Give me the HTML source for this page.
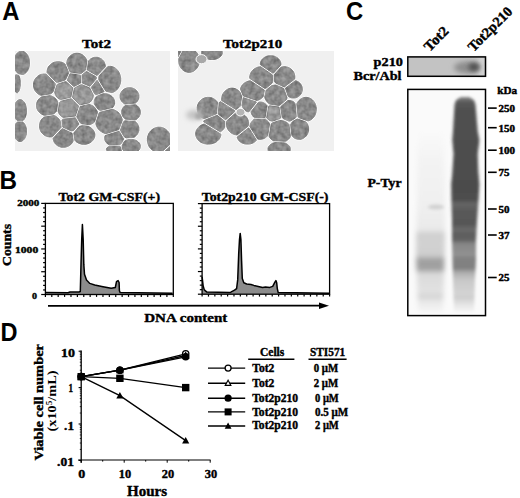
<!DOCTYPE html>
<html><head><meta charset="utf-8"><style>
html,body{margin:0;padding:0;background:#fff;width:520px;height:498px;overflow:hidden}
svg{display:block}
</style></head><body>
<svg width="520" height="498" viewBox="0 0 520 498">
<defs>
<filter id="blur1" x="-50%" y="-50%" width="200%" height="200%"><feGaussianBlur stdDeviation="1.5"/></filter>
<filter id="blur3" x="-50%" y="-50%" width="200%" height="200%"><feGaussianBlur stdDeviation="1.8"/></filter>
<filter id="tex" x="0" y="0" width="100%" height="100%"><feTurbulence type="fractalNoise" baseFrequency="0.22" numOctaves="2" seed="3" result="n"/><feColorMatrix in="n" type="matrix" values="1.3 0 0 0 -0.2  1.3 0 0 0 -0.2  1.3 0 0 0 -0.2  0 0 0 0 0.22" result="na"/><feComposite in="na" in2="SourceAlpha" operator="in" result="nm"/><feMerge><feMergeNode in="SourceGraphic"/><feMergeNode in="nm"/></feMerge></filter>
<filter id="blur2" x="-50%" y="-50%" width="200%" height="200%"><feGaussianBlur stdDeviation="2.5"/></filter>
</defs>
<rect width="520" height="498" fill="#fff"/>
<text x="2.2" y="19.9" font-size="25" font-family='"Liberation Sans", sans-serif' font-weight="bold" text-anchor="start" textLength="17.2" lengthAdjust="spacingAndGlyphs">A</text>
<text x="-0.6" y="188.6" font-size="25" font-family='"Liberation Sans", sans-serif' font-weight="bold" text-anchor="start" textLength="17.5" lengthAdjust="spacingAndGlyphs">B</text>
<text x="346.0" y="20.4" font-size="25.8" font-family='"Liberation Sans", sans-serif' font-weight="bold" text-anchor="start" textLength="17.2" lengthAdjust="spacingAndGlyphs">C</text>
<text x="0.4" y="340.6" font-size="25" font-family='"Liberation Sans", sans-serif' font-weight="bold" text-anchor="start" textLength="17" lengthAdjust="spacingAndGlyphs">D</text>
<text x="82.1" y="47.9" font-size="12.9" font-family='"Liberation Serif", serif' font-weight="bold" text-anchor="start" textLength="28.9" lengthAdjust="spacingAndGlyphs" stroke="#000" stroke-width="0.4">Tot2</text>
<text x="223" y="47.8" font-size="12.9" font-family='"Liberation Serif", serif' font-weight="bold" text-anchor="start" textLength="59.3" lengthAdjust="spacingAndGlyphs" stroke="#000" stroke-width="0.4">Tot2p210</text>
<clipPath id="c1"><rect x="15" y="51" width="155" height="100"/></clipPath>
<rect x="15" y="51" width="155" height="100" fill="#f0f0f0"/>
<g clip-path="url(#c1)">
<ellipse cx="170.0" cy="151.5" rx="7.5" ry="8.0" fill="#fdfdfd"/>
<ellipse cx="159.1" cy="139.8" rx="12.9" ry="13.8" fill="#fdfdfd"/>
<ellipse cx="114.3" cy="149.3" rx="9.1" ry="5.2" fill="#fdfdfd"/>
<ellipse cx="131.0" cy="146.3" rx="10.5" ry="8.2" fill="#fdfdfd"/>
<ellipse cx="114.2" cy="138.1" rx="10.7" ry="9.1" fill="#fdfdfd"/>
<ellipse cx="129.5" cy="129.0" rx="10.6" ry="10.5" fill="#fdfdfd"/>
<ellipse cx="131.0" cy="112.2" rx="10.5" ry="9.8" fill="#fdfdfd"/>
<ellipse cx="129.5" cy="96.3" rx="10.6" ry="9.9" fill="#fdfdfd"/>
<ellipse cx="83.9" cy="135.0" rx="12.1" ry="10.5" fill="#fdfdfd"/>
<ellipse cx="63.4" cy="138.0" rx="11.4" ry="10.5" fill="#fdfdfd"/>
<ellipse cx="109.0" cy="121.4" rx="14.5" ry="13.6" fill="#fdfdfd"/>
<ellipse cx="70.2" cy="123.8" rx="10.6" ry="8.2" fill="#fdfdfd"/>
<ellipse cx="86.9" cy="114.6" rx="12.1" ry="11.4" fill="#fdfdfd"/>
<ellipse cx="104.4" cy="102.4" rx="11.4" ry="9.9" fill="#fdfdfd"/>
<ellipse cx="68.5" cy="108.5" rx="12.0" ry="11.4" fill="#fdfdfd"/>
<ellipse cx="82.4" cy="94.8" rx="12.1" ry="11.4" fill="#fdfdfd"/>
<ellipse cx="64.2" cy="91.0" rx="10.6" ry="10.5" fill="#fdfdfd"/>
<ellipse cx="50.4" cy="125.9" rx="12.1" ry="12.1" fill="#fdfdfd"/>
<ellipse cx="47.4" cy="105.4" rx="12.1" ry="11.4" fill="#fdfdfd"/>
<ellipse cx="44.4" cy="84.9" rx="12.1" ry="12.1" fill="#fdfdfd"/>
<ellipse cx="98.2" cy="86.8" rx="8.8" ry="9.2" fill="#fdfdfd"/>
<ellipse cx="89.0" cy="79.0" rx="9.5" ry="9.0" fill="#fdfdfd"/>
<ellipse cx="74.7" cy="79.4" rx="8.4" ry="8.7" fill="#fdfdfd"/>
<ellipse cx="109.7" cy="79.6" rx="12.2" ry="14.4" fill="#fdfdfd"/>
<ellipse cx="96.0" cy="66.7" rx="10.5" ry="10.6" fill="#fdfdfd"/>
<ellipse cx="77.0" cy="64.0" rx="11.5" ry="11.8" fill="#fdfdfd"/>
<ellipse cx="58.0" cy="72.0" rx="12.2" ry="11.5" fill="#fdfdfd"/>
<ellipse cx="20.1" cy="131.3" rx="7.6" ry="11.4" fill="#fdfdfd"/>
<ellipse cx="20.1" cy="110.7" rx="7.6" ry="12.2" fill="#fdfdfd"/>
<ellipse cx="17.0" cy="83.4" rx="4.5" ry="10.6" fill="#fdfdfd"/>
<ellipse cx="21.6" cy="62.9" rx="9.1" ry="12.9" fill="#fdfdfd"/>
<g filter="url(#tex)">
<path d="M13.8,60.6 L13.7,61.7 L13.7,62.9 L13.7,64.1 L13.8,65.2 L14.0,66.4 L14.3,67.5 L14.6,68.5 L15.1,69.5 L15.5,70.5 L16.1,71.3 L16.7,72.1 L17.3,72.8 L18.0,73.3 L18.3,73.6 L22.6,74.5 L23.1,74.4 L23.8,74.2 L24.5,73.8 L25.2,73.3 L25.9,72.8 L26.5,72.1 L27.1,71.3 L27.7,70.5 L28.1,69.5 L28.6,68.5 L28.9,67.5 L29.2,66.4 L29.4,65.2 L29.5,64.1 L29.5,62.9 L29.5,61.7 L29.4,60.6 L29.2,59.4 L28.9,58.3 L28.6,57.3 L28.1,56.3 L27.7,55.3 L27.1,54.5 L26.5,53.7 L25.9,53.0 L25.2,52.5 L24.5,52.0 L23.8,51.6 L23.1,51.4 L22.3,51.2 L21.6,51.2 L20.9,51.2 L20.1,51.4 L19.4,51.6 L18.7,52.0 L18.0,52.5 L17.3,53.0 L16.7,53.7 L16.1,54.5 L15.5,55.3 L15.1,56.3 L14.6,57.3 L14.3,58.3 L14.0,59.4Z" fill="#7c7c7c" stroke="#6c6c6c" stroke-width="0.9"/>
<path d="M14.1,88.1 L14.3,88.9 L14.6,89.7 L14.8,90.4 L15.1,91.0 L15.4,91.5 L15.7,92.0 L16.0,92.3 L16.3,92.6 L16.6,92.7 L16.8,92.8 L17.0,92.8 L17.2,92.8 L17.4,92.7 L17.7,92.6 L18.0,92.3 L18.3,92.0 L18.6,91.5 L18.9,91.0 L19.2,90.4 L19.4,89.7 L19.7,88.9 L19.9,88.1 L20.0,87.2 L20.2,86.3 L20.3,85.3 L20.3,84.4 L20.3,83.4 L20.3,82.4 L20.3,81.5 L20.2,80.5 L20.0,79.6 L19.9,78.7 L19.7,77.9 L19.4,77.1 L19.2,76.4 L18.9,75.8 L18.7,75.4 L15.8,74.7 L15.7,74.8 L15.4,75.3 L15.1,75.8 L14.8,76.4 L14.6,77.1 L14.3,77.9 L14.1,78.7 L14.0,79.6 L13.8,80.5 L13.7,81.5 L13.7,82.4 L13.7,83.4 L13.7,84.4 L13.7,85.3 L13.8,86.3 L14.0,87.2Z" fill="#7c7c7c" stroke="#6c6c6c" stroke-width="0.9"/>
<path d="M13.8,108.5 L13.7,109.6 L13.7,110.7 L13.7,111.8 L13.8,112.9 L14.0,114.0 L14.2,115.0 L14.5,116.0 L14.8,117.0 L15.2,117.9 L15.7,118.7 L16.1,119.4 L16.7,120.0 L17.0,120.3 L23.2,120.3 L23.5,120.0 L24.1,119.4 L24.5,118.7 L25.0,117.9 L25.4,117.0 L25.7,116.0 L26.0,115.0 L26.2,114.0 L26.4,112.9 L26.5,111.8 L26.5,110.7 L26.5,109.6 L26.4,108.5 L26.2,107.4 L26.0,106.4 L25.7,105.4 L25.4,104.4 L25.0,103.5 L24.5,102.7 L24.1,102.0 L23.5,101.4 L23.0,100.8 L22.4,100.4 L21.8,100.1 L21.3,99.8 L20.7,99.7 L20.1,99.7 L19.5,99.7 L18.9,99.8 L18.4,100.1 L17.8,100.4 L17.2,100.8 L16.7,101.4 L16.1,102.0 L15.7,102.7 L15.2,103.5 L14.8,104.4 L14.5,105.4 L14.2,106.4 L14.0,107.4Z" fill="#7c7c7c" stroke="#6c6c6c" stroke-width="0.9"/>
<path d="M14.5,136.3 L14.8,137.1 L15.2,137.9 L15.6,138.7 L16.1,139.3 L16.7,139.9 L17.2,140.4 L17.8,140.8 L18.3,141.1 L18.9,141.4 L19.5,141.5 L20.1,141.5 L20.7,141.5 L21.3,141.4 L21.9,141.1 L22.4,140.8 L23.0,140.4 L23.5,139.9 L24.1,139.3 L24.6,138.7 L25.0,137.9 L25.4,137.1 L25.7,136.3 L26.0,135.3 L26.3,134.4 L26.4,133.4 L26.5,132.3 L26.5,131.3 L26.5,130.3 L26.4,129.2 L26.3,128.2 L26.0,127.3 L25.7,126.3 L25.4,125.5 L25.0,124.7 L24.6,123.9 L24.1,123.3 L23.5,122.7 L23.0,122.2 L22.8,122.0 L17.4,122.0 L17.2,122.2 L16.7,122.7 L16.1,123.3 L15.6,123.9 L15.2,124.7 L14.8,125.5 L14.5,126.3 L14.2,127.3 L13.9,128.2 L13.8,129.2 L13.7,130.3 L13.7,131.3 L13.7,132.3 L13.8,133.4 L13.9,134.4 L14.2,135.3Z" fill="#7c7c7c" stroke="#6c6c6c" stroke-width="0.9"/>
<path d="M56.2,82.2 L57.0,82.3 L57.9,82.3 L64.9,80.1 L65.0,80.0 L65.7,79.4 L68.7,72.7 L65.0,64.0 L64.2,63.4 L63.3,62.9 L62.3,62.4 L61.3,62.1 L60.2,61.9 L59.1,61.7 L58.0,61.7 L57.0,61.7 L55.9,61.9 L54.8,62.1 L53.8,62.4 L52.8,62.9 L51.9,63.4 L51.1,64.0 L50.3,64.7 L49.5,65.5 L48.9,66.3 L48.3,67.1 L47.9,68.1 L47.5,69.0 L47.3,70.0 L47.1,71.0 L47.1,72.0 L47.1,72.6Z" fill="#7c7c7c" stroke="#6c6c6c" stroke-width="0.9"/>
<path d="M66.9,61.9 L66.7,62.9 L66.7,63.6 L70.2,72.0 L81.0,73.6 L85.5,70.1 L85.6,69.9 L85.6,69.9 L86.9,60.9 L86.9,60.8 L86.6,59.8 L86.1,58.9 L85.6,58.0 L85.0,57.2 L84.3,56.4 L83.6,55.7 L82.7,55.0 L81.9,54.5 L81.0,54.1 L80.0,53.7 L79.0,53.5 L78.0,53.3 L77.0,53.3 L76.0,53.3 L75.0,53.5 L74.0,53.7 L73.0,54.1 L72.1,54.5 L71.3,55.0 L70.4,55.7 L69.7,56.4 L69.0,57.2 L68.4,58.0 L67.9,58.9 L67.4,59.8 L67.1,60.8Z" fill="#7c7c7c" stroke="#6c6c6c" stroke-width="0.9"/>
<path d="M87.3,70.0 L97.1,75.5 L105.3,66.8 L105.3,66.7 L105.3,65.8 L105.2,64.9 L104.9,64.0 L104.6,63.1 L104.2,62.2 L103.8,61.4 L103.2,60.7 L102.6,60.0 L101.9,59.4 L101.2,58.8 L100.4,58.4 L99.6,58.0 L98.7,57.7 L97.8,57.4 L96.9,57.3 L96.0,57.3 L95.1,57.3 L94.2,57.4 L93.3,57.7 L92.4,58.0 L91.6,58.4 L90.8,58.8 L90.1,59.4 L89.4,60.0 L88.8,60.7 L88.6,60.9Z" fill="#7c7c7c" stroke="#6c6c6c" stroke-width="0.9"/>
<path d="M98.7,79.6 L105.9,91.2 L111.8,92.6 L112.9,92.3 L113.9,91.9 L114.9,91.3 L115.8,90.7 L116.7,89.9 L117.5,89.0 L118.2,88.1 L118.9,87.0 L119.4,85.9 L119.9,84.7 L120.3,83.5 L120.5,82.2 L120.7,80.9 L120.7,79.6 L120.7,78.3 L120.5,77.0 L120.3,75.7 L119.9,74.5 L119.4,73.3 L118.9,72.2 L118.2,71.1 L117.5,70.2 L116.7,69.3 L115.8,68.5 L114.9,67.9 L113.9,67.3 L112.9,66.9 L111.8,66.6 L110.8,66.4 L109.7,66.4 L108.6,66.4 L107.9,66.5 L99.1,75.9 L98.9,77.0 L98.7,78.3Z" fill="#7c7c7c" stroke="#6c6c6c" stroke-width="0.9"/>
<path d="M67.5,80.1 L67.6,80.8 L73.9,86.5 L80.6,83.1 L80.4,75.2 L70.1,73.7 L67.5,79.7Z" fill="#7c7c7c" stroke="#6c6c6c" stroke-width="0.9"/>
<path d="M90.0,86.2 L96.4,78.6 L96.4,77.1 L86.6,71.5 L86.6,71.5 L86.3,71.6 L82.1,74.9 L82.3,83.0Z" fill="#7c7c7c" stroke="#6c6c6c" stroke-width="0.9"/>
<path d="M97.1,80.3 L91.3,87.4 L94.6,93.8 L94.7,93.9 L95.4,94.2 L96.1,94.5 L96.4,94.6 L104.1,91.6Z" fill="#7c7c7c" stroke="#6c6c6c" stroke-width="0.9"/>
<path d="M36.7,92.7 L37.5,93.5 L38.3,94.1 L39.2,94.7 L40.2,95.1 L40.8,95.3 L50.8,93.8 L51.3,93.5 L52.1,92.7 L52.9,91.9 L53.2,91.5 L55.3,84.5 L55.3,83.9 L55.3,83.7 L46.2,74.1 L45.5,74.0 L44.4,74.0 L43.3,74.0 L42.3,74.2 L41.2,74.4 L40.2,74.8 L39.2,75.2 L38.3,75.8 L37.5,76.4 L36.7,77.2 L35.9,78.0 L35.3,78.8 L34.7,79.8 L34.3,80.7 L33.9,81.8 L33.7,82.8 L33.5,83.9 L33.5,84.9 L33.5,86.0 L33.7,87.1 L33.9,88.1 L34.3,89.2 L34.7,90.1 L35.3,91.1 L35.9,91.9Z" fill="#7c7c7c" stroke="#6c6c6c" stroke-width="0.9"/>
<path d="M37.3,109.3 L37.7,110.2 L38.3,111.1 L38.9,111.9 L39.6,112.6 L40.4,113.3 L41.3,113.9 L42.2,114.4 L43.2,114.9 L44.2,115.2 L44.5,115.3 L53.4,113.9 L53.5,113.9 L54.4,113.3 L55.2,112.6 L55.9,111.9 L56.5,111.1 L57.8,102.3 L57.5,101.6 L57.1,100.7 L56.5,99.8 L55.9,99.0 L55.2,98.3 L54.4,97.6 L53.5,97.0 L52.6,96.5 L51.6,96.0 L50.6,95.7 L50.3,95.6 L41.4,97.0 L41.3,97.0 L40.4,97.6 L39.6,98.3 L38.9,99.0 L38.3,99.8 L37.7,100.7 L37.3,101.6 L36.9,102.5 L36.7,103.5 L36.5,104.5 L36.5,105.5 L36.5,106.4 L36.7,107.4 L36.9,108.4Z" fill="#7c7c7c" stroke="#6c6c6c" stroke-width="0.9"/>
<path d="M41.3,132.1 L41.9,132.9 L42.7,133.7 L43.5,134.5 L44.3,135.1 L45.2,135.7 L46.2,136.1 L47.2,136.5 L48.3,136.7 L49.3,136.9 L50.4,136.9 L51.5,136.9 L52.3,136.8 L61.1,127.3 L60.5,121.7 L60.1,120.8 L59.5,119.8 L58.9,119.0 L58.1,118.2 L57.3,117.4 L56.5,116.8 L55.6,116.2 L54.6,115.8 L54.0,115.6 L44.0,117.1 L43.5,117.4 L42.7,118.2 L41.9,119.0 L41.3,119.8 L40.7,120.8 L40.3,121.7 L39.9,122.8 L39.7,123.8 L39.5,124.9 L39.5,126.0 L39.5,127.0 L39.7,128.1 L39.9,129.1 L40.3,130.2 L40.7,131.1Z" fill="#7c7c7c" stroke="#6c6c6c" stroke-width="0.9"/>
<path d="M60.5,99.6 L70.9,97.1 L72.8,87.8 L66.3,81.9 L66.0,81.8 L65.4,81.7 L57.6,84.2 L57.4,84.4 L57.0,84.9 L54.7,92.2 L54.8,92.8 L55.1,93.7 L55.4,94.6 L55.8,95.4 L56.2,96.2 L56.8,96.9 L57.4,97.6 L58.1,98.2 L58.9,98.8 L59.7,99.2Z" fill="#929292" stroke="#6c6c6c" stroke-width="0.9"/>
<path d="M80.2,104.8 L89.3,102.8 L89.4,102.7 L90.2,102.0 L90.9,101.3 L91.5,100.5 L92.1,99.6 L92.5,98.7 L92.9,97.8 L93.1,96.8 L93.3,95.8 L93.3,95.2 L89.6,87.9 L81.8,84.7 L81.3,84.7 L81.1,84.7 L74.5,88.1 L72.5,97.5 L79.6,104.7Z" fill="#929292" stroke="#6c6c6c" stroke-width="0.9"/>
<path d="M58.2,111.6 L58.5,112.4 L58.9,113.3 L59.5,114.2 L60.1,115.0 L60.8,115.7 L61.6,116.4 L62.5,117.0 L63.2,117.4 L75.3,116.1 L78.6,106.1 L71.3,98.7 L60.8,101.3 L60.1,102.0 L59.5,102.8 L59.4,102.9Z" fill="#939393" stroke="#6c6c6c" stroke-width="0.9"/>
<path d="M94.3,104.1 L94.4,104.1 L97.9,109.1 L98.7,109.6 L99.5,110.1 L100.3,110.4 L112.8,107.4 L113.0,107.2 L113.5,106.5 L113.9,105.7 L114.2,104.9 L114.5,104.1 L114.6,103.2 L114.6,102.4 L114.6,101.6 L114.5,100.7 L114.2,99.9 L113.9,99.1 L113.5,98.3 L113.0,97.6 L112.4,96.9 L111.7,96.3 L110.9,95.7 L110.1,95.2 L109.3,94.7 L108.4,94.3 L107.4,94.0 L106.4,93.8 L105.4,93.7 L104.4,93.7 L103.4,93.7 L103.3,93.7 L97.4,96.0 L97.1,96.3 L96.4,96.9 L95.8,97.6 L95.3,98.3 L94.9,99.1 L94.6,99.9 L94.3,100.7 L94.2,101.6 L94.2,102.4 L94.2,103.2Z" fill="#7c7c7c" stroke="#6c6c6c" stroke-width="0.9"/>
<path d="M80.2,106.6 L76.8,116.8 L79.9,122.4 L80.0,122.5 L80.8,123.1 L81.7,123.6 L81.8,123.7 L88.8,124.7 L89.1,124.7 L90.2,124.4 L91.2,124.1 L92.2,123.6 L93.1,123.1 L93.9,122.5 L94.5,122.0 L97.6,112.1 L97.5,111.6 L97.4,111.5 L94.3,107.0 L93.9,106.7 L93.1,106.1 L92.2,105.6 L91.2,105.1 L90.2,104.8 L89.1,104.5 L89.1,104.5Z" fill="#7c7c7c" stroke="#6c6c6c" stroke-width="0.9"/>
<path d="M62.9,119.2 L62.7,119.3 L62.2,119.9 L62.0,120.1 L62.8,127.0 L70.9,130.8 L71.1,130.8 L72.0,130.7 L73.0,130.5 L73.8,130.3 L78.9,124.1 L75.4,117.9 L75.4,117.8Z" fill="#7c7c7c" stroke="#6c6c6c" stroke-width="0.9"/>
<path d="M102.7,132.5 L103.9,133.0 L105.1,133.4 L105.9,133.6 L118.8,129.6 L122.3,120.2 L122.1,119.0 L122.1,118.9 L120.4,115.0 L120.1,114.5 L119.3,113.5 L118.5,112.6 L117.5,111.8 L116.4,111.1 L115.3,110.4 L114.1,109.9 L112.9,109.5 L112.1,109.3 L100.0,112.3 L99.5,112.6 L99.1,113.1 L95.8,123.5 L95.9,123.9 L96.2,125.1 L96.7,126.2 L97.2,127.3 L97.9,128.4 L98.7,129.4 L99.5,130.3 L100.5,131.1 L101.6,131.8Z" fill="#7c7c7c" stroke="#6c6c6c" stroke-width="0.9"/>
<path d="M58.5,146.2 L59.5,146.6 L60.4,146.9 L61.4,147.2 L62.4,147.3 L63.4,147.3 L64.4,147.3 L65.4,147.2 L66.4,146.9 L67.3,146.6 L68.3,146.2 L69.1,145.8 L69.9,145.2 L70.7,144.6 L71.3,143.9 L71.9,143.2 L72.5,142.4 L72.9,141.6 L73.2,140.7 L73.2,140.7 L72.1,133.3 L62.4,128.7 L62.4,128.7 L62.1,128.7 L53.2,138.3 L53.2,138.9 L53.3,139.8 L53.6,140.7 L53.9,141.6 L54.3,142.4 L54.9,143.2 L55.5,143.9 L56.1,144.6 L56.9,145.2 L57.7,145.8Z" fill="#7c7c7c" stroke="#6c6c6c" stroke-width="0.9"/>
<path d="M74.9,140.3 L75.4,140.9 L76.1,141.6 L76.9,142.2 L77.8,142.7 L78.7,143.2 L79.7,143.6 L80.7,143.9 L81.7,144.2 L82.8,144.3 L83.9,144.3 L85.0,144.3 L86.1,144.2 L87.1,143.9 L88.1,143.6 L89.1,143.2 L90.0,142.7 L90.9,142.2 L91.7,141.6 L92.4,140.9 L93.0,140.1 L93.6,139.4 L94.0,138.5 L94.4,137.7 L94.6,136.8 L94.8,135.9 L94.8,135.0 L94.8,134.1 L94.6,133.2 L94.4,132.3 L94.0,131.5 L93.6,130.6 L93.0,129.9 L92.4,129.1 L91.7,128.4 L90.9,127.8 L90.0,127.3 L89.1,126.8 L88.1,126.4 L87.8,126.3 L83.7,125.7 L82.8,125.7 L81.7,125.8 L80.7,126.1 L79.7,126.4 L79.0,126.7 L73.8,133.0Z" fill="#7c7c7c" stroke="#6c6c6c" stroke-width="0.9"/>
<path d="M120.2,94.7 L120.1,95.5 L120.1,96.4 L120.1,97.2 L120.2,98.0 L120.5,98.9 L120.8,99.7 L121.2,100.4 L121.6,101.2 L122.2,101.8 L122.8,102.5 L123.5,103.1 L124.2,103.6 L125.0,104.0 L135.6,103.0 L136.2,102.5 L136.8,101.8 L137.4,101.2 L137.8,100.4 L138.2,99.7 L138.5,98.9 L138.8,98.0 L138.9,97.2 L138.9,96.4 L138.9,95.5 L138.8,94.7 L138.5,93.8 L138.2,93.0 L137.8,92.3 L137.4,91.5 L136.8,90.9 L136.2,90.2 L135.5,89.6 L134.8,89.1 L134.0,88.7 L133.1,88.3 L132.3,88.0 L131.4,87.8 L130.4,87.7 L129.5,87.7 L128.6,87.7 L127.6,87.8 L126.7,88.0 L125.9,88.3 L125.0,88.7 L124.2,89.1 L123.5,89.6 L122.8,90.2 L122.2,90.9 L121.6,91.5 L121.2,92.3 L120.8,93.0 L120.5,93.8Z" fill="#7c7c7c" stroke="#6c6c6c" stroke-width="0.9"/>
<path d="M121.8,110.6 L121.7,111.4 L121.7,112.2 L121.7,113.1 L121.8,113.9 L121.9,114.0 L122.9,116.5 L123.2,117.0 L123.8,117.7 L124.4,118.3 L125.0,118.9 L125.3,119.1 L135.1,120.0 L135.4,119.8 L136.2,119.4 L137.0,118.9 L137.6,118.3 L138.2,117.7 L138.8,117.0 L139.3,116.3 L139.6,115.5 L140.0,114.7 L140.2,113.9 L140.3,113.1 L140.3,112.2 L140.3,111.4 L140.2,110.6 L140.0,109.8 L139.6,109.0 L139.3,108.2 L138.8,107.5 L138.2,106.8 L137.6,106.2 L137.0,105.6 L136.2,105.1 L135.5,104.7 L124.9,105.7 L124.4,106.2 L123.8,106.8 L123.2,107.5 L122.7,108.2 L122.4,109.0 L122.0,109.8Z" fill="#7c7c7c" stroke="#6c6c6c" stroke-width="0.9"/>
<path d="M124.4,136.9 L125.0,137.2 L125.9,137.6 L126.4,137.8 L134.1,137.2 L134.8,136.8 L135.5,136.2 L136.2,135.6 L136.8,134.9 L137.4,134.2 L137.8,133.4 L138.2,132.6 L138.5,131.7 L138.8,130.8 L138.9,129.9 L138.9,129.0 L138.9,128.1 L138.8,127.2 L138.5,126.3 L138.2,125.4 L137.8,124.6 L137.4,123.8 L136.8,123.1 L136.2,122.4 L135.5,121.8 L135.4,121.7 L125.0,120.8 L124.2,121.2 L123.5,121.8 L123.5,121.8 L120.4,130.2Z" fill="#7c7c7c" stroke="#6c6c6c" stroke-width="0.9"/>
<path d="M106.2,142.5 L106.8,143.1 L107.4,143.7 L108.1,144.2 L108.8,144.7 L109.4,145.0 L119.3,144.8 L119.6,144.7 L120.3,144.2 L121.0,143.7 L121.5,143.2 L123.6,138.9 L119.1,131.3 L119.1,131.3 L105.1,135.6 L105.0,135.8 L104.8,136.6 L104.7,137.3 L104.7,138.1 L104.7,138.9 L104.8,139.6 L105.0,140.4 L105.4,141.1 L105.7,141.8Z" fill="#7c7c7c" stroke="#6c6c6c" stroke-width="0.9"/>
<path d="M124.3,151.2 L125.0,151.7 L125.7,152.1 L126.5,152.5 L127.4,152.8 L128.2,153.0 L129.1,153.2 L130.1,153.3 L131.0,153.3 L131.9,153.3 L132.9,153.2 L133.8,153.0 L134.6,152.8 L135.5,152.5 L136.3,152.1 L137.0,151.7 L137.7,151.2 L138.3,150.7 L138.8,150.2 L139.3,149.6 L139.7,149.0 L140.0,148.3 L140.2,147.7 L140.3,147.0 L140.3,146.4 L140.3,145.7 L140.2,145.0 L140.0,144.4 L139.7,143.7 L139.3,143.1 L138.8,142.5 L138.3,142.0 L137.7,141.5 L137.0,141.0 L136.3,140.6 L135.5,140.2 L134.6,139.9 L133.8,139.7 L132.9,139.5 L131.9,139.4 L131.0,139.4 L130.1,139.4 L129.1,139.5 L128.2,139.7 L127.4,139.9 L126.5,140.2 L125.7,140.6 L125.0,141.0 L124.3,141.5 L124.2,141.6 L122.1,145.8 L122.8,149.7 L123.2,150.2 L123.7,150.7Z" fill="#7c7c7c" stroke="#6c6c6c" stroke-width="0.9"/>
<path d="M106.5,148.7 L106.4,149.0 L106.4,149.3 L106.4,149.7 L106.5,150.0 L106.6,150.3 L106.9,150.7 L107.2,151.0 L107.5,151.4 L108.0,151.7 L108.5,152.0 L109.1,152.3 L109.7,152.6 L110.4,152.8 L111.2,153.0 L111.9,153.2 L112.7,153.3 L113.5,153.3 L114.4,153.3 L115.2,153.3 L116.0,153.3 L116.8,153.2 L117.5,153.0 L118.3,152.8 L119.0,152.6 L119.6,152.3 L120.2,152.0 L120.7,151.7 L121.2,151.4 L121.4,151.2 L120.6,146.9 L120.2,146.7 L119.9,146.5 L108.5,146.7 L108.5,146.7 L108.0,147.0 L107.5,147.3 L107.2,147.7 L106.9,148.0 L106.6,148.4Z" fill="#7c7c7c" stroke="#6c6c6c" stroke-width="0.9"/>
<path d="M147.6,137.3 L147.4,138.5 L147.4,139.8 L147.4,141.0 L147.6,142.2 L147.9,143.4 L148.3,144.6 L148.7,145.7 L149.3,146.8 L150.0,147.8 L150.8,148.7 L151.7,149.5 L152.6,150.2 L153.6,150.9 L154.6,151.4 L155.7,151.8 L156.8,152.1 L158.0,152.3 L159.1,152.3 L160.2,152.3 L161.4,152.1 L161.6,152.0 L170.1,144.2 L170.3,143.4 L170.6,142.2 L170.8,141.0 L170.8,139.8 L170.8,138.5 L170.6,137.3 L170.3,136.1 L169.9,134.9 L169.5,133.8 L168.9,132.7 L168.2,131.7 L167.4,130.8 L166.5,130.0 L165.6,129.3 L164.6,128.6 L163.6,128.1 L162.5,127.7 L161.4,127.4 L160.2,127.2 L159.1,127.2 L158.0,127.2 L156.8,127.4 L155.7,127.7 L154.6,128.1 L153.6,128.6 L152.6,129.3 L151.7,130.0 L150.8,130.8 L150.0,131.7 L149.3,132.7 L148.7,133.8 L148.3,134.9 L147.9,136.1Z" fill="#7c7c7c" stroke="#6c6c6c" stroke-width="0.9"/>
<path d="M163.7,152.4 L163.8,152.8 L163.9,153.5 L164.1,154.1 L164.4,154.7 L164.7,155.3 L165.1,155.9 L165.5,156.4 L166.0,156.8 L166.5,157.2 L167.0,157.6 L167.6,157.8 L168.2,158.1 L168.8,158.2 L169.4,158.3 L170.0,158.3 L170.6,158.3 L171.2,158.2 L171.8,158.1 L172.4,157.8 L173.0,157.6 L173.5,157.2 L174.0,156.8 L174.5,156.4 L174.9,155.9 L175.3,155.3 L175.6,154.7 L175.9,154.1 L176.1,153.5 L176.2,152.8 L176.3,152.2 L176.3,151.5 L176.3,150.8 L176.2,150.2 L176.1,149.5 L175.9,148.9 L175.6,148.3 L175.3,147.7 L174.9,147.1 L174.5,146.6 L174.0,146.2 L173.5,145.8 L173.0,145.4 L172.4,145.2 L171.8,144.9 L171.8,144.9Z" fill="#7c7c7c" stroke="#6c6c6c" stroke-width="0.9"/>
</g>
</g>
<clipPath id="c2"><rect x="178" y="51" width="156" height="100"/></clipPath>
<rect x="178" y="51" width="156" height="100" fill="#f0f0f0"/>
<g clip-path="url(#c2)">
<ellipse cx="279.1" cy="149.2" rx="12.3" ry="8.3" fill="#fdfdfd"/>
<ellipse cx="247.5" cy="136.2" rx="11.5" ry="9.2" fill="#fdfdfd"/>
<ellipse cx="208.3" cy="133.8" rx="13.8" ry="11.5" fill="#fdfdfd"/>
<ellipse cx="299.1" cy="129.1" rx="10.7" ry="11.4" fill="#fdfdfd"/>
<ellipse cx="279.9" cy="131.6" rx="13.0" ry="12.3" fill="#fdfdfd"/>
<ellipse cx="260.0" cy="128.3" rx="11.5" ry="12.1" fill="#fdfdfd"/>
<ellipse cx="237.6" cy="123.8" rx="12.2" ry="12.3" fill="#fdfdfd"/>
<ellipse cx="214.3" cy="123.8" rx="12.2" ry="10.7" fill="#fdfdfd"/>
<ellipse cx="306.0" cy="109.2" rx="11.5" ry="13.0" fill="#fdfdfd"/>
<ellipse cx="289.1" cy="110.8" rx="9.9" ry="11.5" fill="#fdfdfd"/>
<ellipse cx="273.5" cy="113.1" rx="10.0" ry="9.2" fill="#fdfdfd"/>
<ellipse cx="259.9" cy="110.8" rx="10.0" ry="10.0" fill="#fdfdfd"/>
<ellipse cx="225.2" cy="110.0" rx="10.8" ry="10.7" fill="#fdfdfd"/>
<ellipse cx="208.2" cy="108.5" rx="12.2" ry="12.2" fill="#fdfdfd"/>
<ellipse cx="249.0" cy="102.2" rx="8.5" ry="10.8" fill="#fdfdfd"/>
<ellipse cx="232.0" cy="99.2" rx="11.5" ry="12.2" fill="#fdfdfd"/>
<ellipse cx="293.5" cy="89.2" rx="10.0" ry="10.0" fill="#fdfdfd"/>
<ellipse cx="276.0" cy="95.4" rx="12.5" ry="11.5" fill="#fdfdfd"/>
<ellipse cx="252.8" cy="90.8" rx="13.7" ry="11.5" fill="#fdfdfd"/>
<ellipse cx="284.2" cy="77.0" rx="11.8" ry="11.5" fill="#fdfdfd"/>
<ellipse cx="261.5" cy="77.8" rx="13.0" ry="12.2" fill="#fdfdfd"/>
<ellipse cx="270.6" cy="64.5" rx="11.5" ry="10.0" fill="#fdfdfd"/>
<ellipse cx="176.5" cy="54.0" rx="6.0" ry="7.5" fill="#fdfdfd"/>
<ellipse cx="212.0" cy="52.6" rx="11.5" ry="8.1" fill="#fdfdfd"/>
<ellipse cx="189.0" cy="60.5" rx="11.5" ry="13.0" fill="#fdfdfd"/>
<g filter="url(#tex)">
<path d="M178.7,59.0 L178.7,59.3 L178.7,60.5 L178.7,61.7 L178.9,62.8 L179.1,64.0 L179.5,65.1 L179.9,66.1 L180.4,67.1 L181.0,68.1 L181.7,68.9 L182.5,69.7 L183.3,70.4 L184.2,71.0 L185.1,71.5 L186.0,71.8 L187.0,72.1 L188.0,72.3 L189.0,72.3 L190.0,72.3 L191.0,72.1 L192.0,71.8 L192.9,71.5 L193.8,71.0 L194.7,70.4 L195.5,69.7 L196.3,68.9 L197.0,68.1 L197.6,67.1 L198.1,66.1 L198.5,65.1 L198.9,64.0 L199.1,62.8 L199.3,61.7 L199.3,60.5 L199.3,59.3 L199.1,58.2 L198.9,57.0 L198.5,55.9 L198.1,54.9 L197.6,53.9 L197.0,52.9 L196.3,52.1 L195.5,51.3 L194.7,50.6 L193.8,50.0 L192.9,49.5 L192.0,49.2 L191.0,48.9 L190.0,48.7 L189.0,48.7 L188.0,48.7 L187.0,48.9 L186.0,49.2 L185.1,49.5 L184.2,50.0 L183.3,50.6 L183.0,50.9Z" fill="#7c7c7c" stroke="#6c6c6c" stroke-width="0.9"/>
<path d="M204.6,47.8 L203.9,48.3 L203.3,48.9 L202.8,49.4 L202.4,50.0 L202.1,50.7 L201.8,51.3 L201.7,52.0 L201.7,52.6 L201.7,53.2 L201.8,53.9 L202.1,54.5 L202.4,55.2 L202.8,55.8 L203.3,56.3 L203.9,56.9 L204.6,57.4 L205.3,57.9 L206.1,58.3 L207.0,58.7 L207.9,59.0 L208.9,59.2 L209.9,59.4 L211.0,59.5 L212.0,59.5 L213.0,59.5 L214.1,59.4 L215.1,59.2 L216.1,59.0 L217.0,58.7 L217.9,58.3 L218.7,57.9 L219.4,57.4 L220.1,56.9 L220.7,56.3 L221.2,55.8 L221.6,55.2 L221.9,54.5 L222.2,53.9 L222.3,53.2 L222.3,52.6 L222.3,52.0 L222.2,51.3 L221.9,50.7 L221.6,50.0 L221.2,49.4 L220.7,48.9 L220.1,48.3 L219.4,47.8 L218.7,47.3 L217.9,46.9 L217.0,46.5 L216.1,46.2 L215.1,46.0 L214.1,45.8 L213.0,45.7 L212.0,45.7 L211.0,45.7 L209.9,45.8 L208.9,46.0 L207.9,46.2 L207.0,46.5 L206.1,46.9 L205.3,47.3Z" fill="#7c7c7c" stroke="#6c6c6c" stroke-width="0.9"/>
<path d="M172.3,50.9 L172.0,51.5 L171.9,52.1 L171.7,52.7 L171.7,53.4 L171.7,54.0 L171.7,54.6 L171.7,55.3 L171.9,55.9 L172.0,56.5 L172.3,57.1 L172.5,57.6 L172.8,58.1 L173.1,58.6 L173.5,59.0 L173.9,59.3 L174.3,59.6 L174.7,59.9 L175.1,60.1 L175.6,60.2 L176.0,60.3 L176.1,60.3 L180.9,51.3 L180.7,50.9 L180.5,50.4 L180.2,49.9 L179.9,49.4 L179.5,49.0 L179.1,48.7 L178.7,48.4 L178.3,48.1 L177.9,47.9 L177.4,47.8 L177.0,47.7 L176.5,47.7 L176.0,47.7 L175.6,47.8 L175.1,47.9 L174.7,48.1 L174.3,48.4 L173.9,48.7 L173.5,49.0 L173.1,49.4 L172.8,49.9 L172.5,50.4Z" fill="#7c7c7c" stroke="#6c6c6c" stroke-width="0.9"/>
<path d="M263.2,58.3 L262.6,58.9 L262.0,59.6 L261.4,60.4 L261.0,61.2 L260.7,62.0 L260.4,62.8 L260.3,63.6 L260.3,64.5 L272.8,73.1 L273.5,73.0 L280.9,64.9 L280.9,64.5 L280.9,63.6 L280.8,62.8 L280.5,62.0 L280.2,61.2 L279.8,60.4 L279.2,59.6 L278.6,58.9 L278.0,58.3 L277.2,57.7 L276.4,57.2 L275.5,56.7 L274.6,56.3 L273.6,56.0 L272.6,55.8 L271.6,55.7 L270.6,55.7 L269.6,55.7 L268.6,55.8 L267.6,56.0 L266.6,56.3 L265.7,56.7 L264.8,57.2 L264.0,57.7Z" fill="#7c7c7c" stroke="#6c6c6c" stroke-width="0.9"/>
<path d="M266.4,87.9 L271.6,83.6 L272.0,83.0 L272.5,82.0 L272.7,81.4 L272.5,75.0 L260.5,66.7 L260.3,66.7 L259.2,66.9 L258.0,67.1 L256.9,67.5 L255.9,68.0 L254.9,68.5 L254.0,69.2 L253.1,69.9 L252.3,70.7 L251.6,71.6 L251.0,72.5 L250.5,73.5 L250.2,74.5 L249.9,75.6 L249.7,76.7 L249.7,77.8 L249.7,78.3 L264.8,88.4 L265.0,88.4 L266.1,88.0Z" fill="#7c7c7c" stroke="#6c6c6c" stroke-width="0.9"/>
<path d="M274.9,81.9 L275.4,82.7 L275.6,83.0 L284.3,86.9 L294.6,79.1 L294.6,79.0 L294.8,78.0 L294.8,77.0 L294.8,76.0 L294.6,75.0 L294.4,74.0 L294.0,73.0 L293.6,72.1 L293.1,71.3 L292.4,70.4 L291.8,69.7 L291.0,69.0 L290.1,68.4 L289.3,67.9 L288.3,67.4 L287.3,67.1 L286.3,66.9 L285.3,66.7 L284.2,66.7 L283.2,66.7 L282.2,66.9 L281.2,67.1 L274.2,74.8 L274.4,80.7 L274.5,81.0Z" fill="#7c7c7c" stroke="#6c6c6c" stroke-width="0.9"/>
<path d="M250.2,80.7 L249.1,80.9 L248.0,81.3 L246.8,81.7 L245.8,82.2 L244.8,82.8 L243.9,83.5 L243.0,84.3 L242.3,85.1 L241.7,86.0 L241.2,86.9 L240.8,87.8 L240.5,88.8 L240.5,89.0 L243.3,95.9 L257.1,100.5 L257.6,100.3 L258.8,99.9 L259.8,99.4 L260.8,98.8 L261.7,98.1 L262.6,97.3 L263.1,96.6 L264.4,90.2Z" fill="#7c7c7c" stroke="#6c6c6c" stroke-width="0.9"/>
<path d="M267.9,102.7 L268.8,103.4 L269.7,104.0 L269.9,104.1 L278.9,105.4 L279.3,105.3 L279.9,105.1 L286.3,99.7 L286.5,99.3 L286.9,98.4 L287.0,97.8 L283.7,88.5 L276.0,85.1 L276.0,85.1 L274.9,85.1 L273.8,85.3 L272.7,85.5 L271.6,85.8 L271.3,86.0 L266.2,90.2 L266.1,90.3 L264.8,97.0 L264.9,97.4 L265.1,98.4 L265.5,99.3 L266.0,100.3 L266.5,101.1 L267.2,101.9Z" fill="#7c7c7c" stroke="#6c6c6c" stroke-width="0.9"/>
<path d="M293.5,98.0 L294.4,98.0 L295.2,97.9 L296.1,97.7 L296.9,97.4 L297.7,97.0 L298.4,96.6 L299.1,96.1 L299.8,95.5 L300.3,94.8 L300.9,94.1 L301.3,93.4 L301.7,92.6 L302.0,91.8 L302.2,91.0 L302.3,90.1 L302.3,89.2 L302.3,88.4 L302.2,87.5 L302.0,86.7 L301.7,85.9 L301.3,85.1 L300.9,84.4 L300.3,83.7 L299.8,83.0 L299.1,82.4 L298.4,81.9 L297.7,81.5 L296.9,81.1 L296.1,80.8 L295.4,80.7 L285.4,88.2 L288.3,96.4 L288.6,96.6 L289.3,97.0 L290.1,97.4 L290.9,97.7 L291.8,97.9 L292.6,98.0Z" fill="#7c7c7c" stroke="#6c6c6c" stroke-width="0.9"/>
<path d="M224.0,92.2 L223.4,93.1 L222.9,94.0 L222.4,95.0 L222.1,96.0 L221.9,97.1 L221.7,98.2 L221.7,99.2 L221.7,100.3 L221.7,100.5 L236.0,109.5 L236.9,109.0 L237.7,108.5 L238.5,107.8 L239.3,107.1 L240.0,106.3 L240.1,106.2 L241.7,96.7 L239.9,92.0 L239.3,91.4 L238.5,90.7 L237.7,90.0 L236.9,89.5 L235.9,89.0 L235.0,88.6 L234.0,88.4 L233.0,88.2 L232.0,88.2 L231.0,88.2 L230.0,88.4 L229.0,88.6 L228.1,89.0 L227.1,89.5 L226.3,90.0 L225.5,90.7 L224.7,91.4Z" fill="#7c7c7c" stroke="#6c6c6c" stroke-width="0.9"/>
<path d="M242.0,105.1 L242.2,106.0 L242.6,106.8 L242.9,107.7 L243.4,108.4 L243.9,109.1 L244.4,109.7 L245.0,110.3 L245.6,110.8 L246.3,111.2 L246.9,111.5 L247.6,111.7 L248.3,111.8 L248.9,111.8 L256.3,102.3 L256.3,102.3 L256.3,102.0 L243.3,97.7Z" fill="#7c7c7c" stroke="#6c6c6c" stroke-width="0.9"/>
<path d="M200.4,100.6 L199.7,101.4 L199.0,102.3 L198.5,103.2 L198.0,104.2 L197.6,105.2 L197.4,106.3 L197.2,107.4 L197.2,108.5 L197.2,109.5 L197.4,110.6 L197.6,111.7 L198.0,112.7 L198.5,113.7 L199.0,114.6 L199.7,115.5 L200.4,116.3 L201.2,117.0 L202.1,117.7 L203.0,118.2 L204.0,118.7 L204.0,118.7 L216.5,113.8 L217.5,102.4 L217.5,102.3 L216.8,101.4 L216.1,100.6 L215.3,99.9 L214.4,99.2 L213.5,98.7 L212.5,98.2 L211.5,97.8 L210.4,97.6 L209.3,97.4 L208.2,97.4 L207.2,97.4 L206.1,97.6 L205.0,97.8 L204.0,98.2 L203.0,98.7 L202.1,99.2 L201.2,99.9Z" fill="#7c7c7c" stroke="#6c6c6c" stroke-width="0.9"/>
<path d="M219.2,102.6 L218.2,114.0 L225.2,119.5 L225.2,119.5 L225.8,119.5 L234.7,111.6 L234.8,110.9 L234.8,110.7 L220.5,101.7 L219.9,102.1Z" fill="#7c7c7c" stroke="#6c6c6c" stroke-width="0.9"/>
<path d="M251.1,111.7 L251.2,112.5 L251.4,113.3 L251.7,114.1 L252.1,114.9 L252.5,115.6 L253.0,116.3 L253.6,117.0 L254.3,117.6 L254.4,117.6 L265.1,117.5 L267.1,105.8 L266.7,105.2 L266.1,104.5 L265.4,103.9 L264.7,103.4 L264.0,103.0 L263.2,102.6 L262.4,102.3 L261.6,102.1 L260.7,102.0 L259.8,102.0 L259.6,102.0 L258.4,102.4Z" fill="#7c7c7c" stroke="#6c6c6c" stroke-width="0.9"/>
<path d="M268.7,106.3 L266.7,118.0 L268.9,119.9 L269.3,120.2 L270.1,120.5 L270.9,120.8 L271.8,121.0 L272.5,121.1 L280.1,118.5 L280.4,118.2 L280.6,117.9 L279.0,107.1 L269.7,105.8 L269.3,106.0Z" fill="#929292" stroke="#6c6c6c" stroke-width="0.9"/>
<path d="M282.9,118.2 L283.4,118.7 L288.8,121.1 L289.1,121.1 L289.9,121.1 L290.0,121.1 L295.2,118.2 L295.2,118.2 L295.8,117.4 L296.3,116.7 L295.0,103.2 L294.6,102.8 L293.9,102.2 L293.2,101.6 L292.4,101.2 L291.6,100.9 L290.7,100.6 L289.9,100.5 L289.1,100.5 L288.2,100.5 L287.9,100.5 L281.1,106.3 L280.9,106.8 L280.7,107.4 L282.2,117.3 L282.3,117.4Z" fill="#7c7c7c" stroke="#6c6c6c" stroke-width="0.9"/>
<path d="M298.7,117.6 L308.1,120.9 L309.0,120.6 L309.9,120.3 L310.8,119.8 L311.7,119.2 L312.5,118.5 L313.3,117.7 L314.0,116.8 L314.6,115.9 L315.1,114.9 L315.5,113.8 L315.9,112.7 L316.1,111.6 L316.3,110.4 L316.3,109.2 L316.3,108.1 L316.1,106.9 L315.9,105.8 L315.5,104.7 L315.1,103.6 L314.6,102.6 L314.0,101.7 L313.3,100.8 L312.5,100.0 L311.7,99.3 L310.8,98.7 L309.9,98.2 L309.0,97.9 L308.0,97.6 L307.0,97.4 L306.0,97.4 L305.0,97.4 L304.0,97.6 L303.0,97.9 L302.1,98.2 L301.2,98.7 L300.3,99.3 L299.5,100.0 L298.7,100.8 L298.0,101.7 L297.4,102.6 L296.9,103.6 L296.8,103.8 L298.0,116.7 L298.0,116.8Z" fill="#7c7c7c" stroke="#6c6c6c" stroke-width="0.9"/>
<path d="M203.6,121.7 L220.3,131.8 L220.5,131.7 L221.4,131.1 L222.2,130.5 L222.9,129.8 L223.5,129.1 L224.1,128.3 L224.5,127.4 L224.7,127.1 L224.7,121.3 L217.1,115.3 L204.0,120.6 L203.8,121.1Z" fill="#7c7c7c" stroke="#6c6c6c" stroke-width="0.9"/>
<path d="M226.7,126.0 L226.9,127.0 L227.3,128.1 L227.8,129.1 L228.3,130.0 L229.0,130.9 L229.7,131.7 L230.5,132.4 L231.4,133.1 L232.3,133.6 L233.3,134.1 L234.3,134.5 L235.4,134.7 L236.5,134.9 L237.2,134.9 L248.1,126.1 L248.6,123.6 L248.6,122.7 L248.4,121.6 L248.2,120.6 L247.8,119.5 L247.3,118.5 L246.8,117.6 L246.1,116.7 L245.4,115.9 L244.6,115.2 L243.7,114.5 L242.8,114.0 L241.8,113.5 L240.8,113.1 L239.7,112.9 L238.6,112.7 L237.6,112.7 L236.5,112.7 L235.9,112.8 L226.9,120.8 L226.7,121.6 L226.5,122.7 L226.5,123.8 L226.5,124.9Z" fill="#7c7c7c" stroke="#6c6c6c" stroke-width="0.9"/>
<path d="M249.8,126.4 L257.7,139.1 L258.0,139.1 L259.0,139.3 L260.0,139.3 L261.0,139.3 L262.0,139.1 L263.0,138.9 L263.9,138.5 L264.9,138.1 L265.7,137.5 L266.5,136.9 L267.3,136.1 L267.6,135.8 L269.5,124.0 L269.1,123.1 L268.6,122.2 L268.1,121.6 L265.5,119.2 L254.1,119.3 L253.5,119.8 L252.7,120.6 L252.0,121.4 L251.4,122.2 L250.9,123.1 L250.4,124.1 L250.1,125.1 L249.9,126.1 L249.8,126.2Z" fill="#7c7c7c" stroke="#6c6c6c" stroke-width="0.9"/>
<path d="M269.9,137.7 L270.6,138.6 L271.4,139.4 L272.3,140.1 L273.1,140.7 L285.7,141.2 L286.5,140.8 L287.4,140.1 L288.3,139.4 L289.1,138.6 L289.8,137.7 L290.4,136.8 L290.4,136.6 L288.9,124.3 L288.3,123.7 L287.4,123.0 L286.5,122.3 L285.5,121.8 L284.4,121.3 L283.3,120.9 L282.2,120.7 L281.0,120.5 L279.8,120.5 L279.5,120.5 L272.4,122.9 L272.3,123.0 L271.4,123.7 L271.3,123.9 L269.2,136.5 L269.3,136.8Z" fill="#7c7c7c" stroke="#6c6c6c" stroke-width="0.9"/>
<path d="M290.6,124.6 L292.0,135.9 L292.5,136.4 L293.1,137.0 L293.9,137.6 L294.7,138.2 L295.5,138.6 L296.4,138.9 L297.3,139.2 L298.2,139.3 L299.2,139.3 L300.1,139.3 L301.0,139.2 L301.9,138.9 L302.8,138.6 L303.6,138.2 L304.4,137.6 L305.2,137.0 L305.8,136.4 L306.5,135.6 L307.0,134.8 L307.5,134.0 L307.9,133.0 L308.2,132.1 L308.5,131.1 L308.6,130.1 L308.6,129.1 L308.6,128.1 L308.5,127.1 L308.2,126.1 L307.9,125.2 L307.5,124.2 L307.0,123.4 L306.5,122.6 L305.9,122.0 L297.5,119.0 L297.3,119.0 L297.1,119.1 L292.9,121.4 L292.5,121.8 L291.8,122.6 L291.3,123.4 L290.8,124.2Z" fill="#7c7c7c" stroke="#6c6c6c" stroke-width="0.9"/>
<path d="M197.7,128.1 L197.1,129.0 L196.6,129.9 L196.2,130.8 L195.9,131.8 L195.7,132.8 L195.7,133.8 L195.7,134.8 L195.9,135.8 L196.2,136.8 L196.6,137.7 L197.1,138.6 L197.7,139.5 L198.5,140.3 L199.3,141.1 L200.2,141.8 L201.2,142.4 L202.3,142.9 L203.4,143.3 L204.6,143.7 L205.8,143.9 L207.0,144.1 L208.3,144.1 L209.6,144.1 L210.8,143.9 L212.0,143.7 L213.2,143.3 L214.3,142.9 L215.4,142.4 L216.4,141.8 L217.3,141.1 L218.1,140.3 L218.9,139.5 L219.5,138.6 L220.0,137.7 L220.4,136.8 L220.7,135.8 L220.9,134.8 L220.9,134.2 L204.2,124.0 L203.4,124.3 L202.3,124.7 L201.2,125.2 L200.2,125.8 L199.3,126.5 L198.5,127.3Z" fill="#7c7c7c" stroke="#6c6c6c" stroke-width="0.9"/>
<path d="M237.2,137.1 L237.3,137.7 L237.6,138.4 L237.9,139.1 L238.3,139.8 L238.8,140.5 L239.4,141.2 L240.1,141.7 L240.9,142.3 L241.7,142.8 L242.6,143.2 L243.5,143.5 L244.4,143.8 L245.4,144.0 L246.5,144.1 L247.5,144.1 L248.5,144.1 L249.6,144.0 L250.6,143.8 L251.5,143.5 L252.4,143.2 L253.3,142.8 L254.1,142.3 L254.9,141.7 L255.6,141.2 L256.2,140.5 L256.4,140.2 L249.0,128.2 L248.5,128.2 L248.3,128.2Z" fill="#7c7c7c" stroke="#6c6c6c" stroke-width="0.9"/>
<path d="M271.1,144.2 L270.4,144.7 L269.7,145.3 L269.2,145.9 L268.7,146.5 L268.4,147.2 L268.1,147.8 L268.0,148.5 L268.0,149.2 L268.0,149.8 L268.1,150.5 L268.4,151.1 L268.7,151.8 L269.2,152.4 L269.7,153.0 L270.4,153.6 L271.1,154.1 L271.9,154.6 L272.8,155.1 L273.8,155.4 L274.8,155.8 L275.8,156.0 L276.9,156.2 L278.0,156.3 L279.2,156.3 L280.3,156.3 L281.4,156.2 L282.5,156.0 L283.5,155.8 L284.5,155.4 L285.5,155.1 L286.4,154.6 L287.2,154.1 L287.9,153.6 L288.6,153.0 L289.1,152.4 L289.6,151.8 L289.9,151.1 L290.2,150.5 L290.3,149.8 L290.3,149.2 L290.3,148.5 L290.2,147.8 L289.9,147.2 L289.6,146.5 L289.1,145.9 L288.6,145.3 L287.9,144.7 L287.2,144.2 L286.4,143.7 L285.5,143.2 L284.6,142.9 L275.0,142.5 L274.8,142.5 L273.8,142.9 L272.8,143.2 L271.9,143.7Z" fill="#7c7c7c" stroke="#6c6c6c" stroke-width="0.9"/>
</g>
<ellipse cx="201.5" cy="59.2" rx="5.5" ry="4.6" fill="#a8a8a8" stroke="#fdfdfd" stroke-width="1"/>
<ellipse cx="240.5" cy="112.2" rx="4.5" ry="3.8" fill="#b5b5b5" stroke="#fdfdfd" stroke-width="1"/>
</g>
<ellipse cx="194" cy="115" rx="8" ry="5" fill="#c4c4c4" filter="url(#blur2)"/>
<ellipse cx="199" cy="116" rx="4" ry="3.5" fill="#aaaaaa" filter="url(#blur1)"/>
<path d="M46.0,292.4 L68.0,292.8 L70.0,292.0 L79.0,292.0 L80.3,291.5 L81.0,264.4 L81.7,239.7 L82.4,224.6 L83.2,239.7 L83.8,264.4 L84.5,274.3 L86.5,280.0 L89.8,283.4 L94.7,285.0 L103.0,286.7 L111.2,288.3 L115.3,287.5 L116.5,281.7 L118.1,280.6 L119.1,282.5 L119.4,290.8 L120.2,292.6 L172.6,293.2 L172.6,294.5 L46,294.5 Z" fill="#8c8c8c" stroke="none"/>
<path d="M46.0,292.4 L68.0,292.8 L70.0,292.0 L79.0,292.0 L80.3,291.5 L81.0,264.4 L81.7,239.7 L82.4,224.6 L83.2,239.7 L83.8,264.4 L84.5,274.3 L86.5,280.0 L89.8,283.4 L94.7,285.0 L103.0,286.7 L111.2,288.3 L115.3,287.5 L116.5,281.7 L118.1,280.6 L119.1,282.5 L119.4,290.8 L120.2,292.6 L172.6,293.2" fill="none" stroke="#000" stroke-width="1.5" stroke-linejoin="round"/>
<rect x="45.4" y="203.4" width="127.9" height="91.1" fill="none" stroke="#000" stroke-width="1.3"/>
<line x1="41.199999999999996" y1="294.5" x2="45.4" y2="294.5" stroke="#000" stroke-width="1.2"/>
<line x1="43.1" y1="289.945" x2="45.4" y2="289.945" stroke="#000" stroke-width="1.2"/>
<line x1="43.1" y1="285.39" x2="45.4" y2="285.39" stroke="#000" stroke-width="1.2"/>
<line x1="43.1" y1="280.835" x2="45.4" y2="280.835" stroke="#000" stroke-width="1.2"/>
<line x1="43.1" y1="276.28" x2="45.4" y2="276.28" stroke="#000" stroke-width="1.2"/>
<line x1="41.199999999999996" y1="271.725" x2="45.4" y2="271.725" stroke="#000" stroke-width="1.2"/>
<line x1="43.1" y1="267.17" x2="45.4" y2="267.17" stroke="#000" stroke-width="1.2"/>
<line x1="43.1" y1="262.615" x2="45.4" y2="262.615" stroke="#000" stroke-width="1.2"/>
<line x1="43.1" y1="258.06" x2="45.4" y2="258.06" stroke="#000" stroke-width="1.2"/>
<line x1="43.1" y1="253.505" x2="45.4" y2="253.505" stroke="#000" stroke-width="1.2"/>
<line x1="41.199999999999996" y1="248.95" x2="45.4" y2="248.95" stroke="#000" stroke-width="1.2"/>
<line x1="43.1" y1="244.395" x2="45.4" y2="244.395" stroke="#000" stroke-width="1.2"/>
<line x1="43.1" y1="239.84" x2="45.4" y2="239.84" stroke="#000" stroke-width="1.2"/>
<line x1="43.1" y1="235.285" x2="45.4" y2="235.285" stroke="#000" stroke-width="1.2"/>
<line x1="43.1" y1="230.73000000000002" x2="45.4" y2="230.73000000000002" stroke="#000" stroke-width="1.2"/>
<line x1="41.199999999999996" y1="226.175" x2="45.4" y2="226.175" stroke="#000" stroke-width="1.2"/>
<line x1="43.1" y1="221.62" x2="45.4" y2="221.62" stroke="#000" stroke-width="1.2"/>
<line x1="43.1" y1="217.065" x2="45.4" y2="217.065" stroke="#000" stroke-width="1.2"/>
<line x1="43.1" y1="212.51" x2="45.4" y2="212.51" stroke="#000" stroke-width="1.2"/>
<line x1="43.1" y1="207.955" x2="45.4" y2="207.955" stroke="#000" stroke-width="1.2"/>
<line x1="41.199999999999996" y1="203.4" x2="45.4" y2="203.4" stroke="#000" stroke-width="1.2"/>
<line x1="45.4" y1="294.5" x2="45.4" y2="296.9" stroke="#000" stroke-width="1.2"/>
<line x1="51.795" y1="294.5" x2="51.795" y2="296.9" stroke="#000" stroke-width="1.2"/>
<line x1="58.19" y1="294.5" x2="58.19" y2="296.9" stroke="#000" stroke-width="1.2"/>
<line x1="64.58500000000001" y1="294.5" x2="64.58500000000001" y2="296.9" stroke="#000" stroke-width="1.2"/>
<line x1="70.98" y1="294.5" x2="70.98" y2="296.9" stroke="#000" stroke-width="1.2"/>
<line x1="77.375" y1="294.5" x2="77.375" y2="296.9" stroke="#000" stroke-width="1.2"/>
<line x1="83.77000000000001" y1="294.5" x2="83.77000000000001" y2="296.9" stroke="#000" stroke-width="1.2"/>
<line x1="90.16499999999999" y1="294.5" x2="90.16499999999999" y2="296.9" stroke="#000" stroke-width="1.2"/>
<line x1="96.56" y1="294.5" x2="96.56" y2="296.9" stroke="#000" stroke-width="1.2"/>
<line x1="102.95500000000001" y1="294.5" x2="102.95500000000001" y2="296.9" stroke="#000" stroke-width="1.2"/>
<line x1="109.35" y1="294.5" x2="109.35" y2="296.9" stroke="#000" stroke-width="1.2"/>
<line x1="115.745" y1="294.5" x2="115.745" y2="296.9" stroke="#000" stroke-width="1.2"/>
<line x1="122.14000000000001" y1="294.5" x2="122.14000000000001" y2="296.9" stroke="#000" stroke-width="1.2"/>
<line x1="128.535" y1="294.5" x2="128.535" y2="296.9" stroke="#000" stroke-width="1.2"/>
<line x1="134.93" y1="294.5" x2="134.93" y2="296.9" stroke="#000" stroke-width="1.2"/>
<line x1="141.325" y1="294.5" x2="141.325" y2="296.9" stroke="#000" stroke-width="1.2"/>
<line x1="147.72" y1="294.5" x2="147.72" y2="296.9" stroke="#000" stroke-width="1.2"/>
<line x1="154.115" y1="294.5" x2="154.115" y2="296.9" stroke="#000" stroke-width="1.2"/>
<line x1="160.51000000000002" y1="294.5" x2="160.51000000000002" y2="296.9" stroke="#000" stroke-width="1.2"/>
<line x1="166.905" y1="294.5" x2="166.905" y2="296.9" stroke="#000" stroke-width="1.2"/>
<line x1="173.3" y1="294.5" x2="173.3" y2="296.9" stroke="#000" stroke-width="1.2"/>
<text x="58.6" y="200.8" font-size="13.5" font-family='"Liberation Serif", serif' font-weight="bold" text-anchor="start" textLength="101.4" lengthAdjust="spacingAndGlyphs" stroke="#000" stroke-width="0.4">Tot2 GM-CSF(+)</text>
<path d="M202.1,276.9 L203.1,285.6 L204.3,289.9 L206.9,292.1 L229.4,292.5 L230.8,292.2 L234.5,290.2 L236.6,288.6 L237.7,279.9 L238.7,253.9 L239.5,239.5 L240.2,233.4 L240.9,239.5 L241.6,261.1 L242.3,278.5 L243.8,282.8 L246.7,284.0 L251.0,284.5 L253.9,285.4 L258.2,286.4 L262.6,287.4 L265.5,287.1 L269.8,287.4 L272.7,286.4 L274.9,282.1 L275.9,280.6 L276.7,282.8 L277.3,288.6 L278.2,292.6 L329.0,293.2 L329,294.2 L202.1,294.2 Z" fill="#8c8c8c" stroke="none"/>
<path d="M202.1,276.9 L203.1,285.6 L204.3,289.9 L206.9,292.1 L229.4,292.5 L230.8,292.2 L234.5,290.2 L236.6,288.6 L237.7,279.9 L238.7,253.9 L239.5,239.5 L240.2,233.4 L240.9,239.5 L241.6,261.1 L242.3,278.5 L243.8,282.8 L246.7,284.0 L251.0,284.5 L253.9,285.4 L258.2,286.4 L262.6,287.4 L265.5,287.1 L269.8,287.4 L272.7,286.4 L274.9,282.1 L275.9,280.6 L276.7,282.8 L277.3,288.6 L278.2,292.6 L329.0,293.2" fill="none" stroke="#000" stroke-width="1.5" stroke-linejoin="round"/>
<rect x="202.1" y="203.6" width="127.50000000000003" height="90.6" fill="none" stroke="#000" stroke-width="1.3"/>
<line x1="197.9" y1="294.2" x2="202.1" y2="294.2" stroke="#000" stroke-width="1.2"/>
<line x1="199.79999999999998" y1="289.67" x2="202.1" y2="289.67" stroke="#000" stroke-width="1.2"/>
<line x1="199.79999999999998" y1="285.14" x2="202.1" y2="285.14" stroke="#000" stroke-width="1.2"/>
<line x1="199.79999999999998" y1="280.61" x2="202.1" y2="280.61" stroke="#000" stroke-width="1.2"/>
<line x1="199.79999999999998" y1="276.08" x2="202.1" y2="276.08" stroke="#000" stroke-width="1.2"/>
<line x1="197.9" y1="271.55" x2="202.1" y2="271.55" stroke="#000" stroke-width="1.2"/>
<line x1="199.79999999999998" y1="267.02" x2="202.1" y2="267.02" stroke="#000" stroke-width="1.2"/>
<line x1="199.79999999999998" y1="262.49" x2="202.1" y2="262.49" stroke="#000" stroke-width="1.2"/>
<line x1="199.79999999999998" y1="257.96" x2="202.1" y2="257.96" stroke="#000" stroke-width="1.2"/>
<line x1="199.79999999999998" y1="253.43" x2="202.1" y2="253.43" stroke="#000" stroke-width="1.2"/>
<line x1="197.9" y1="248.89999999999998" x2="202.1" y2="248.89999999999998" stroke="#000" stroke-width="1.2"/>
<line x1="199.79999999999998" y1="244.37" x2="202.1" y2="244.37" stroke="#000" stroke-width="1.2"/>
<line x1="199.79999999999998" y1="239.84" x2="202.1" y2="239.84" stroke="#000" stroke-width="1.2"/>
<line x1="199.79999999999998" y1="235.31" x2="202.1" y2="235.31" stroke="#000" stroke-width="1.2"/>
<line x1="199.79999999999998" y1="230.78" x2="202.1" y2="230.78" stroke="#000" stroke-width="1.2"/>
<line x1="197.9" y1="226.25" x2="202.1" y2="226.25" stroke="#000" stroke-width="1.2"/>
<line x1="199.79999999999998" y1="221.72" x2="202.1" y2="221.72" stroke="#000" stroke-width="1.2"/>
<line x1="199.79999999999998" y1="217.19" x2="202.1" y2="217.19" stroke="#000" stroke-width="1.2"/>
<line x1="199.79999999999998" y1="212.66" x2="202.1" y2="212.66" stroke="#000" stroke-width="1.2"/>
<line x1="199.79999999999998" y1="208.13" x2="202.1" y2="208.13" stroke="#000" stroke-width="1.2"/>
<line x1="197.9" y1="203.6" x2="202.1" y2="203.6" stroke="#000" stroke-width="1.2"/>
<line x1="202.1" y1="294.2" x2="202.1" y2="296.59999999999997" stroke="#000" stroke-width="1.2"/>
<line x1="208.475" y1="294.2" x2="208.475" y2="296.59999999999997" stroke="#000" stroke-width="1.2"/>
<line x1="214.85" y1="294.2" x2="214.85" y2="296.59999999999997" stroke="#000" stroke-width="1.2"/>
<line x1="221.225" y1="294.2" x2="221.225" y2="296.59999999999997" stroke="#000" stroke-width="1.2"/>
<line x1="227.6" y1="294.2" x2="227.6" y2="296.59999999999997" stroke="#000" stroke-width="1.2"/>
<line x1="233.975" y1="294.2" x2="233.975" y2="296.59999999999997" stroke="#000" stroke-width="1.2"/>
<line x1="240.35000000000002" y1="294.2" x2="240.35000000000002" y2="296.59999999999997" stroke="#000" stroke-width="1.2"/>
<line x1="246.72500000000002" y1="294.2" x2="246.72500000000002" y2="296.59999999999997" stroke="#000" stroke-width="1.2"/>
<line x1="253.10000000000002" y1="294.2" x2="253.10000000000002" y2="296.59999999999997" stroke="#000" stroke-width="1.2"/>
<line x1="259.475" y1="294.2" x2="259.475" y2="296.59999999999997" stroke="#000" stroke-width="1.2"/>
<line x1="265.85" y1="294.2" x2="265.85" y2="296.59999999999997" stroke="#000" stroke-width="1.2"/>
<line x1="272.225" y1="294.2" x2="272.225" y2="296.59999999999997" stroke="#000" stroke-width="1.2"/>
<line x1="278.6" y1="294.2" x2="278.6" y2="296.59999999999997" stroke="#000" stroke-width="1.2"/>
<line x1="284.975" y1="294.2" x2="284.975" y2="296.59999999999997" stroke="#000" stroke-width="1.2"/>
<line x1="291.35" y1="294.2" x2="291.35" y2="296.59999999999997" stroke="#000" stroke-width="1.2"/>
<line x1="297.725" y1="294.2" x2="297.725" y2="296.59999999999997" stroke="#000" stroke-width="1.2"/>
<line x1="304.1" y1="294.2" x2="304.1" y2="296.59999999999997" stroke="#000" stroke-width="1.2"/>
<line x1="310.475" y1="294.2" x2="310.475" y2="296.59999999999997" stroke="#000" stroke-width="1.2"/>
<line x1="316.85" y1="294.2" x2="316.85" y2="296.59999999999997" stroke="#000" stroke-width="1.2"/>
<line x1="323.225" y1="294.2" x2="323.225" y2="296.59999999999997" stroke="#000" stroke-width="1.2"/>
<line x1="329.6" y1="294.2" x2="329.6" y2="296.59999999999997" stroke="#000" stroke-width="1.2"/>
<text x="201.7" y="200.8" font-size="13.5" font-family='"Liberation Serif", serif' font-weight="bold" text-anchor="start" textLength="126.8" lengthAdjust="spacingAndGlyphs" stroke="#000" stroke-width="0.4">Tot2p210 GM-CSF(-)</text>
<text x="17.3" y="205.8" font-size="9" font-family='"Liberation Serif", serif' font-weight="bold" text-anchor="start" textLength="22.1" lengthAdjust="spacingAndGlyphs" stroke="#000" stroke-width="0.4">2000</text>
<text x="15" y="252.6" font-size="9" font-family='"Liberation Serif", serif' font-weight="bold" text-anchor="start" textLength="23.2" lengthAdjust="spacingAndGlyphs" stroke="#000" stroke-width="0.4">1000</text>
<text x="32" y="299" font-size="9" font-family='"Liberation Serif", serif' font-weight="bold" text-anchor="start" textLength="5" lengthAdjust="spacingAndGlyphs" stroke="#000" stroke-width="0.4">0</text>
<text x="11" y="266" font-size="13.2" font-family='"Liberation Serif", serif' font-weight="bold" text-anchor="start" textLength="42" lengthAdjust="spacingAndGlyphs" transform="rotate(-90 11 266)" stroke="#000" stroke-width="0.4">Counts</text>
<line x1="48" y1="305.9" x2="322" y2="305.6" stroke="#000" stroke-width="1.6"/>
<path d="M319,302.5 L329,305.8 L319,309.1 Z" fill="#000"/>
<text x="144.2" y="321.5" font-size="13" font-family='"Liberation Serif", serif' font-weight="bold" text-anchor="start" textLength="83.2" lengthAdjust="spacingAndGlyphs" stroke="#000" stroke-width="0.4">DNA content</text>
<text x="373.6" y="65.6" font-size="12.6" font-family='"Liberation Serif", serif' font-weight="bold" text-anchor="start" textLength="29.3" lengthAdjust="spacingAndGlyphs" stroke="#000" stroke-width="0.4">p210</text>
<text x="353.5" y="80.2" font-size="13.3" font-family='"Liberation Serif", serif' font-weight="bold" text-anchor="start" textLength="48" lengthAdjust="spacingAndGlyphs" stroke="#000" stroke-width="0.4">Bcr/Abl</text>
<text x="367.5" y="186.8" font-size="12.8" font-family='"Liberation Serif", serif' font-weight="bold" text-anchor="start" textLength="34" lengthAdjust="spacingAndGlyphs" stroke="#000" stroke-width="0.4">P-Tyr</text>
<text x="497.3" y="93.6" font-size="10.5" font-family='"Liberation Serif", serif' font-weight="bold" text-anchor="start" textLength="19.9" lengthAdjust="spacingAndGlyphs" stroke="#000" stroke-width="0.4">kDa</text>
<line x1="488" y1="108.1" x2="496.7" y2="108.1" stroke="#000" stroke-width="1.6"/>
<text x="498.5" y="112.0" font-size="9.6" font-family='"Liberation Serif", serif' font-weight="bold" text-anchor="start" textLength="16.5" lengthAdjust="spacingAndGlyphs" stroke="#000" stroke-width="0.4">250</text>
<line x1="488" y1="127.7" x2="496.7" y2="127.7" stroke="#000" stroke-width="1.6"/>
<text x="498.5" y="131.6" font-size="9.6" font-family='"Liberation Serif", serif' font-weight="bold" text-anchor="start" textLength="16.5" lengthAdjust="spacingAndGlyphs" stroke="#000" stroke-width="0.4">150</text>
<line x1="488" y1="150.2" x2="496.7" y2="150.2" stroke="#000" stroke-width="1.6"/>
<text x="498.5" y="154.1" font-size="9.6" font-family='"Liberation Serif", serif' font-weight="bold" text-anchor="start" textLength="16.5" lengthAdjust="spacingAndGlyphs" stroke="#000" stroke-width="0.4">100</text>
<line x1="488" y1="172.3" x2="496.7" y2="172.3" stroke="#000" stroke-width="1.6"/>
<text x="498.5" y="176.20000000000002" font-size="9.6" font-family='"Liberation Serif", serif' font-weight="bold" text-anchor="start" textLength="11" lengthAdjust="spacingAndGlyphs" stroke="#000" stroke-width="0.4">75</text>
<line x1="488" y1="209" x2="496.7" y2="209" stroke="#000" stroke-width="1.6"/>
<text x="498.5" y="212.9" font-size="9.6" font-family='"Liberation Serif", serif' font-weight="bold" text-anchor="start" textLength="11" lengthAdjust="spacingAndGlyphs" stroke="#000" stroke-width="0.4">50</text>
<line x1="488" y1="235" x2="496.7" y2="235" stroke="#000" stroke-width="1.6"/>
<text x="498.5" y="238.9" font-size="9.6" font-family='"Liberation Serif", serif' font-weight="bold" text-anchor="start" textLength="11" lengthAdjust="spacingAndGlyphs" stroke="#000" stroke-width="0.4">37</text>
<line x1="488" y1="277.5" x2="496.7" y2="277.5" stroke="#000" stroke-width="1.6"/>
<text x="498.5" y="281.4" font-size="9.6" font-family='"Liberation Serif", serif' font-weight="bold" text-anchor="start" textLength="11" lengthAdjust="spacingAndGlyphs" stroke="#000" stroke-width="0.4">25</text>
<text x="429.5" y="52.2" font-size="14.2" font-family='"Liberation Serif", serif' font-weight="bold" text-anchor="start" textLength="28.5" lengthAdjust="spacingAndGlyphs" transform="rotate(-45 429.5 52.2)" stroke="#000" stroke-width="0.4">Tot2</text>
<text x="473.4" y="52.4" font-size="14.2" font-family='"Liberation Serif", serif' font-weight="bold" text-anchor="start" textLength="56.5" lengthAdjust="spacingAndGlyphs" transform="rotate(-45 473.4 52.4)" stroke="#000" stroke-width="0.4">Tot2p210</text>
<rect x="407.8" y="56.9" width="77.7" height="19.4" fill="#c3c3c3"/>
<rect x="478" y="57" width="7.5" height="19" fill="#d2d2d2" filter="url(#blur1)"/>
<ellipse cx="467" cy="67.5" rx="13" ry="6" fill="#8e8e8e" filter="url(#blur2)"/>
<ellipse cx="474" cy="67" rx="5.5" ry="4" fill="#484848" filter="url(#blur2)"/>
<rect x="407.8" y="56.9" width="77.7" height="19.4" fill="none" stroke="#000" stroke-width="1.5"/>
<clipPath id="cb"><rect x="408" y="89.5" width="77" height="226"/></clipPath>
<rect x="407.8" y="89.4" width="77.7" height="226.2" fill="#fafafa"/>
<g clip-path="url(#cb)">
<g filter="url(#blur3)">
<rect x="460.1" y="97" width="9.8" height="1.05" fill="rgb(134,134,134)"/>
<rect x="458.4" y="98" width="13.2" height="1.05" fill="rgb(123,123,123)"/>
<rect x="457.0" y="99" width="16.0" height="1.05" fill="rgb(112,112,112)"/>
<rect x="456.0" y="100" width="18.0" height="1.05" fill="rgb(101,101,101)"/>
<rect x="455.4" y="101" width="19.2" height="1.05" fill="rgb(94,94,94)"/>
<rect x="455.1" y="102" width="19.8" height="1.05" fill="rgb(90,90,90)"/>
<rect x="454.9" y="103" width="20.2" height="1.05" fill="rgb(88,88,88)"/>
<rect x="454.6" y="104" width="20.8" height="1.05" fill="rgb(86,86,86)"/>
<rect x="454.5" y="105" width="21.1" height="1.05" fill="rgb(84,84,84)"/>
<rect x="454.4" y="106" width="21.2" height="1.05" fill="rgb(84,84,84)"/>
<rect x="454.4" y="107" width="21.4" height="1.05" fill="rgb(82,82,82)"/>
<rect x="454.3" y="108" width="21.5" height="1.05" fill="rgb(82,82,82)"/>
<rect x="454.2" y="109" width="21.6" height="1.05" fill="rgb(80,80,80)"/>
<rect x="454.2" y="110" width="21.8" height="1.05" fill="rgb(80,80,80)"/>
<rect x="454.1" y="111" width="21.9" height="1.05" fill="rgb(80,80,80)"/>
<rect x="454.1" y="112" width="22.1" height="1.05" fill="rgb(80,80,80)"/>
<rect x="454.0" y="113" width="22.2" height="1.05" fill="rgb(80,80,80)"/>
<rect x="454.0" y="114" width="22.4" height="1.05" fill="rgb(80,80,80)"/>
<rect x="453.9" y="115" width="22.5" height="1.05" fill="rgb(80,80,80)"/>
<rect x="453.8" y="116" width="22.6" height="1.05" fill="rgb(80,80,80)"/>
<rect x="453.8" y="117" width="22.8" height="1.05" fill="rgb(80,80,80)"/>
<rect x="453.7" y="118" width="22.9" height="1.05" fill="rgb(80,80,80)"/>
<rect x="453.7" y="119" width="23.1" height="1.05" fill="rgb(80,80,80)"/>
<rect x="453.6" y="120" width="23.2" height="1.05" fill="rgb(79,79,79)"/>
<rect x="453.5" y="121" width="23.3" height="1.05" fill="rgb(79,79,79)"/>
<rect x="453.5" y="122" width="23.5" height="1.05" fill="rgb(79,79,79)"/>
<rect x="453.4" y="123" width="23.6" height="1.05" fill="rgb(79,79,79)"/>
<rect x="453.4" y="124" width="23.8" height="1.05" fill="rgb(79,79,79)"/>
<rect x="453.3" y="125" width="23.9" height="1.05" fill="rgb(79,79,79)"/>
<rect x="453.3" y="126" width="24.1" height="1.05" fill="rgb(79,79,79)"/>
<rect x="453.2" y="127" width="24.2" height="1.05" fill="rgb(79,79,79)"/>
<rect x="453.1" y="128" width="24.3" height="1.05" fill="rgb(79,79,79)"/>
<rect x="453.1" y="129" width="24.5" height="1.05" fill="rgb(79,79,79)"/>
<rect x="453.0" y="130" width="24.6" height="1.05" fill="rgb(79,79,79)"/>
<rect x="453.0" y="131" width="24.8" height="1.05" fill="rgb(79,79,79)"/>
<rect x="452.9" y="132" width="25.1" height="1.05" fill="rgb(79,79,79)"/>
<rect x="452.8" y="133" width="25.4" height="1.05" fill="rgb(79,79,79)"/>
<rect x="452.7" y="134" width="25.6" height="1.05" fill="rgb(79,79,79)"/>
<rect x="452.6" y="135" width="25.9" height="1.05" fill="rgb(79,79,79)"/>
<rect x="452.6" y="136" width="26.2" height="1.05" fill="rgb(79,79,79)"/>
<rect x="452.5" y="137" width="26.4" height="1.05" fill="rgb(79,79,79)"/>
<rect x="452.4" y="138" width="26.7" height="1.05" fill="rgb(79,79,79)"/>
<rect x="452.3" y="139" width="27.0" height="1.05" fill="rgb(79,79,79)"/>
<rect x="452.3" y="140" width="27.0" height="1.05" fill="rgb(78,78,78)"/>
<rect x="452.4" y="141" width="26.8" height="1.05" fill="rgb(78,78,78)"/>
<rect x="452.5" y="142" width="26.6" height="1.05" fill="rgb(78,78,78)"/>
<rect x="452.6" y="143" width="26.4" height="1.05" fill="rgb(78,78,78)"/>
<rect x="452.7" y="144" width="26.2" height="1.05" fill="rgb(78,78,78)"/>
<rect x="452.8" y="145" width="26.0" height="1.05" fill="rgb(78,78,78)"/>
<rect x="452.9" y="146" width="25.8" height="1.05" fill="rgb(78,78,78)"/>
<rect x="452.9" y="147" width="25.5" height="1.05" fill="rgb(78,78,78)"/>
<rect x="453.0" y="148" width="25.3" height="1.05" fill="rgb(78,78,78)"/>
<rect x="453.1" y="149" width="25.1" height="1.05" fill="rgb(78,78,78)"/>
<rect x="453.2" y="150" width="24.9" height="1.05" fill="rgb(78,78,78)"/>
<rect x="453.3" y="151" width="24.7" height="1.05" fill="rgb(78,78,78)"/>
<rect x="453.4" y="152" width="24.5" height="1.05" fill="rgb(78,78,78)"/>
<rect x="453.5" y="153" width="24.3" height="1.05" fill="rgb(78,78,78)"/>
<rect x="453.5" y="154" width="24.2" height="1.05" fill="rgb(78,78,78)"/>
<rect x="453.4" y="155" width="24.3" height="1.05" fill="rgb(78,78,78)"/>
<rect x="453.3" y="156" width="24.4" height="1.05" fill="rgb(78,78,78)"/>
<rect x="453.3" y="157" width="24.6" height="1.05" fill="rgb(78,78,78)"/>
<rect x="453.2" y="158" width="24.6" height="1.05" fill="rgb(78,78,78)"/>
<rect x="453.2" y="159" width="24.8" height="1.05" fill="rgb(78,78,78)"/>
<rect x="453.1" y="160" width="24.8" height="1.05" fill="rgb(77,77,77)"/>
<rect x="453.0" y="161" width="24.9" height="1.05" fill="rgb(77,77,77)"/>
<rect x="453.0" y="162" width="25.0" height="1.05" fill="rgb(77,77,77)"/>
<rect x="452.9" y="163" width="25.1" height="1.05" fill="rgb(77,77,77)"/>
<rect x="452.8" y="164" width="25.2" height="1.05" fill="rgb(77,77,77)"/>
<rect x="452.8" y="165" width="25.3" height="1.05" fill="rgb(77,77,77)"/>
<rect x="452.7" y="166" width="25.4" height="1.05" fill="rgb(77,77,77)"/>
<rect x="452.6" y="167" width="25.5" height="1.05" fill="rgb(77,77,77)"/>
<rect x="452.6" y="168" width="25.6" height="1.05" fill="rgb(77,77,77)"/>
<rect x="452.5" y="169" width="25.7" height="1.05" fill="rgb(77,77,77)"/>
<rect x="452.5" y="170" width="25.8" height="1.05" fill="rgb(77,77,77)"/>
<rect x="452.4" y="171" width="25.9" height="1.05" fill="rgb(77,77,77)"/>
<rect x="452.3" y="172" width="26.0" height="1.05" fill="rgb(77,77,77)"/>
<rect x="452.2" y="173" width="26.2" height="1.05" fill="rgb(77,77,77)"/>
<rect x="452.2" y="174" width="26.4" height="1.05" fill="rgb(77,77,77)"/>
<rect x="452.1" y="175" width="26.6" height="1.05" fill="rgb(77,77,77)"/>
<rect x="451.9" y="176" width="26.8" height="1.05" fill="rgb(77,77,77)"/>
<rect x="451.9" y="177" width="27.0" height="1.05" fill="rgb(77,77,77)"/>
<rect x="451.8" y="178" width="27.1" height="1.05" fill="rgb(77,77,77)"/>
<rect x="451.6" y="179" width="27.3" height="1.05" fill="rgb(77,77,77)"/>
<rect x="451.6" y="180" width="27.5" height="1.05" fill="rgb(76,76,76)"/>
<rect x="451.4" y="181" width="27.7" height="1.05" fill="rgb(76,76,76)"/>
<rect x="451.3" y="182" width="27.9" height="1.05" fill="rgb(76,76,76)"/>
<rect x="451.2" y="183" width="28.1" height="1.05" fill="rgb(76,76,76)"/>
<rect x="451.2" y="184" width="28.2" height="1.05" fill="rgb(76,76,76)"/>
<rect x="451.2" y="185" width="28.1" height="1.05" fill="rgb(76,76,76)"/>
<rect x="451.2" y="186" width="28.0" height="1.05" fill="rgb(76,76,76)"/>
<rect x="451.2" y="187" width="28.0" height="1.05" fill="rgb(76,76,76)"/>
<rect x="451.3" y="188" width="27.9" height="1.05" fill="rgb(76,76,76)"/>
<rect x="451.3" y="189" width="27.8" height="1.05" fill="rgb(76,76,76)"/>
<rect x="451.3" y="190" width="27.8" height="1.05" fill="rgb(76,76,76)"/>
<rect x="451.3" y="191" width="27.7" height="1.05" fill="rgb(76,76,76)"/>
<rect x="451.3" y="192" width="27.6" height="1.05" fill="rgb(76,76,76)"/>
<rect x="451.3" y="193" width="27.5" height="1.05" fill="rgb(77,77,77)"/>
<rect x="451.3" y="194" width="27.5" height="1.05" fill="rgb(77,77,77)"/>
<rect x="451.3" y="195" width="27.4" height="1.05" fill="rgb(77,77,77)"/>
<rect x="451.4" y="196" width="27.3" height="1.05" fill="rgb(77,77,77)"/>
<rect x="451.4" y="197" width="27.3" height="1.05" fill="rgb(78,78,78)"/>
<rect x="451.4" y="198" width="27.2" height="1.05" fill="rgb(78,78,78)"/>
<rect x="451.4" y="199" width="27.1" height="1.05" fill="rgb(78,78,78)"/>
<rect x="451.4" y="200" width="27.0" height="1.05" fill="rgb(81,81,81)"/>
<rect x="451.4" y="201" width="26.9" height="1.05" fill="rgb(88,88,88)"/>
<rect x="451.5" y="202" width="26.8" height="1.05" fill="rgb(95,95,95)"/>
<rect x="451.5" y="203" width="26.7" height="1.05" fill="rgb(98,98,98)"/>
<rect x="451.5" y="204" width="26.6" height="1.05" fill="rgb(98,98,98)"/>
<rect x="451.6" y="205" width="26.5" height="1.05" fill="rgb(98,98,98)"/>
<rect x="451.6" y="206" width="26.4" height="1.05" fill="rgb(98,98,98)"/>
<rect x="451.6" y="207" width="26.3" height="1.05" fill="rgb(96,96,96)"/>
<rect x="451.7" y="208" width="26.2" height="1.05" fill="rgb(93,93,93)"/>
<rect x="451.7" y="209" width="26.1" height="1.05" fill="rgb(90,90,90)"/>
<rect x="451.7" y="210" width="26.0" height="1.05" fill="rgb(88,88,88)"/>
<rect x="451.7" y="211" width="25.9" height="1.05" fill="rgb(88,88,88)"/>
<rect x="451.8" y="212" width="25.8" height="1.05" fill="rgb(88,88,88)"/>
<rect x="451.8" y="213" width="25.7" height="1.05" fill="rgb(88,88,88)"/>
<rect x="451.8" y="214" width="25.6" height="1.05" fill="rgb(88,88,88)"/>
<rect x="451.9" y="215" width="25.5" height="1.05" fill="rgb(88,88,88)"/>
<rect x="451.9" y="216" width="25.4" height="1.05" fill="rgb(88,88,88)"/>
<rect x="451.9" y="217" width="25.3" height="1.05" fill="rgb(88,88,88)"/>
<rect x="452.0" y="218" width="25.2" height="1.05" fill="rgb(88,88,88)"/>
<rect x="452.0" y="219" width="25.1" height="1.05" fill="rgb(87,87,87)"/>
<rect x="452.0" y="220" width="25.0" height="1.05" fill="rgb(86,86,86)"/>
<rect x="452.0" y="221" width="24.9" height="1.05" fill="rgb(85,85,85)"/>
<rect x="452.0" y="222" width="24.9" height="1.05" fill="rgb(85,85,85)"/>
<rect x="452.0" y="223" width="24.8" height="1.05" fill="rgb(86,86,86)"/>
<rect x="452.0" y="224" width="24.8" height="1.05" fill="rgb(88,88,88)"/>
<rect x="452.0" y="225" width="24.7" height="1.05" fill="rgb(89,89,89)"/>
<rect x="452.0" y="226" width="24.7" height="1.05" fill="rgb(93,93,93)"/>
<rect x="452.0" y="227" width="24.6" height="1.05" fill="rgb(98,98,98)"/>
<rect x="452.0" y="228" width="24.6" height="1.05" fill="rgb(103,103,103)"/>
<rect x="452.0" y="229" width="24.5" height="1.05" fill="rgb(105,105,105)"/>
<rect x="452.0" y="230" width="24.5" height="1.05" fill="rgb(103,103,103)"/>
<rect x="452.0" y="231" width="24.4" height="1.05" fill="rgb(101,101,101)"/>
<rect x="452.0" y="232" width="24.4" height="1.05" fill="rgb(98,98,98)"/>
<rect x="452.0" y="233" width="24.3" height="1.05" fill="rgb(94,94,94)"/>
<rect x="452.0" y="234" width="24.3" height="1.05" fill="rgb(92,92,92)"/>
<rect x="452.0" y="235" width="24.2" height="1.05" fill="rgb(94,94,94)"/>
<rect x="452.0" y="236" width="24.2" height="1.05" fill="rgb(94,94,94)"/>
<rect x="452.0" y="237" width="24.1" height="1.05" fill="rgb(96,96,96)"/>
<rect x="452.0" y="238" width="24.1" height="1.05" fill="rgb(96,96,96)"/>
<rect x="452.0" y="239" width="24.0" height="1.05" fill="rgb(98,98,98)"/>
<rect x="452.0" y="240" width="24.0" height="1.05" fill="rgb(103,103,103)"/>
<rect x="452.0" y="241" width="24.0" height="1.05" fill="rgb(112,112,112)"/>
<rect x="452.1" y="242" width="23.9" height="1.05" fill="rgb(121,121,121)"/>
<rect x="452.1" y="243" width="23.9" height="1.05" fill="rgb(130,130,130)"/>
<rect x="452.1" y="244" width="23.9" height="1.05" fill="rgb(135,135,135)"/>
<rect x="452.1" y="245" width="23.9" height="1.05" fill="rgb(136,136,136)"/>
<rect x="452.2" y="246" width="23.8" height="1.05" fill="rgb(137,137,137)"/>
<rect x="452.2" y="247" width="23.8" height="1.05" fill="rgb(138,138,138)"/>
<rect x="452.2" y="248" width="23.8" height="1.05" fill="rgb(139,139,139)"/>
<rect x="452.2" y="249" width="23.8" height="1.05" fill="rgb(140,140,140)"/>
<rect x="452.3" y="250" width="23.7" height="1.05" fill="rgb(141,141,141)"/>
<rect x="452.3" y="251" width="23.7" height="1.05" fill="rgb(142,142,142)"/>
<rect x="452.3" y="252" width="23.7" height="1.05" fill="rgb(143,143,143)"/>
<rect x="452.3" y="253" width="23.7" height="1.05" fill="rgb(144,144,144)"/>
<rect x="452.4" y="254" width="23.6" height="1.05" fill="rgb(145,145,145)"/>
<rect x="452.4" y="255" width="23.6" height="1.05" fill="rgb(142,142,142)"/>
<rect x="452.4" y="256" width="23.6" height="1.05" fill="rgb(138,138,138)"/>
<rect x="452.4" y="257" width="23.6" height="1.05" fill="rgb(132,132,132)"/>
<rect x="452.5" y="258" width="23.5" height="1.05" fill="rgb(130,130,130)"/>
<rect x="452.5" y="259" width="23.5" height="1.05" fill="rgb(130,130,130)"/>
<rect x="452.5" y="260" width="23.5" height="1.05" fill="rgb(130,130,130)"/>
<rect x="452.5" y="261" width="23.4" height="1.05" fill="rgb(129,129,129)"/>
<rect x="452.6" y="262" width="23.3" height="1.05" fill="rgb(129,129,129)"/>
<rect x="452.6" y="263" width="23.2" height="1.05" fill="rgb(129,129,129)"/>
<rect x="452.6" y="264" width="23.2" height="1.05" fill="rgb(129,129,129)"/>
<rect x="452.6" y="265" width="23.1" height="1.05" fill="rgb(128,128,128)"/>
<rect x="452.7" y="266" width="23.0" height="1.05" fill="rgb(128,128,128)"/>
<rect x="452.7" y="267" width="22.9" height="1.05" fill="rgb(128,128,128)"/>
<rect x="452.7" y="268" width="22.9" height="1.05" fill="rgb(133,133,133)"/>
<rect x="452.7" y="269" width="22.8" height="1.05" fill="rgb(142,142,142)"/>
<rect x="452.8" y="270" width="22.7" height="1.05" fill="rgb(152,152,152)"/>
<rect x="452.8" y="271" width="22.6" height="1.05" fill="rgb(161,161,161)"/>
<rect x="452.8" y="272" width="22.6" height="1.05" fill="rgb(170,170,170)"/>
<rect x="452.8" y="273" width="22.5" height="1.05" fill="rgb(177,177,177)"/>
<rect x="452.9" y="274" width="22.4" height="1.05" fill="rgb(180,180,180)"/>
<rect x="452.9" y="275" width="22.3" height="1.05" fill="rgb(184,184,184)"/>
<rect x="452.9" y="276" width="22.3" height="1.05" fill="rgb(188,188,188)"/>
<rect x="452.9" y="277" width="22.2" height="1.05" fill="rgb(191,191,191)"/>
<rect x="453.0" y="278" width="22.1" height="1.05" fill="rgb(195,195,195)"/>
<rect x="453.0" y="279" width="22.0" height="1.05" fill="rgb(198,198,198)"/>
<rect x="453.0" y="280" width="22.0" height="1.05" fill="rgb(200,200,200)"/>
<rect x="453.0" y="281" width="21.9" height="1.05" fill="rgb(201,201,201)"/>
<rect x="453.1" y="282" width="21.8" height="1.05" fill="rgb(202,202,202)"/>
<rect x="453.1" y="283" width="21.8" height="1.05" fill="rgb(203,203,203)"/>
<rect x="453.1" y="284" width="21.7" height="1.05" fill="rgb(204,204,204)"/>
<rect x="453.2" y="285" width="21.7" height="1.05" fill="rgb(205,205,205)"/>
<rect x="453.2" y="286" width="21.6" height="1.05" fill="rgb(206,206,206)"/>
<rect x="453.2" y="287" width="21.5" height="1.05" fill="rgb(206,206,206)"/>
<rect x="453.3" y="288" width="21.5" height="1.05" fill="rgb(207,207,207)"/>
<rect x="453.3" y="289" width="21.4" height="1.05" fill="rgb(208,208,208)"/>
<rect x="453.3" y="290" width="21.3" height="1.05" fill="rgb(209,209,209)"/>
<rect x="453.4" y="291" width="21.3" height="1.05" fill="rgb(210,210,210)"/>
<rect x="453.4" y="292" width="21.2" height="1.05" fill="rgb(211,211,211)"/>
<rect x="453.4" y="293" width="21.2" height="1.05" fill="rgb(212,212,212)"/>
<rect x="453.5" y="294" width="21.1" height="1.05" fill="rgb(211,211,211)"/>
<rect x="453.5" y="295" width="21.0" height="1.05" fill="rgb(208,208,208)"/>
<rect x="453.5" y="296" width="21.0" height="1.05" fill="rgb(206,206,206)"/>
<rect x="453.5" y="297" width="20.9" height="1.05" fill="rgb(207,207,207)"/>
<rect x="453.6" y="298" width="20.8" height="1.05" fill="rgb(210,210,210)"/>
<rect x="453.6" y="299" width="20.8" height="1.05" fill="rgb(213,213,213)"/>
<rect x="453.6" y="300" width="20.7" height="1.05" fill="rgb(216,216,216)"/>
<rect x="453.7" y="301" width="20.7" height="1.05" fill="rgb(219,219,219)"/>
<rect x="453.7" y="302" width="20.6" height="1.05" fill="rgb(222,222,222)"/>
<rect x="453.7" y="303" width="20.5" height="1.05" fill="rgb(225,225,225)"/>
<rect x="453.8" y="304" width="20.5" height="1.05" fill="rgb(228,228,228)"/>
<rect x="453.8" y="305" width="20.4" height="1.05" fill="rgb(231,231,231)"/>
<rect x="453.8" y="306" width="20.3" height="1.05" fill="rgb(233,233,233)"/>
<rect x="453.9" y="307" width="20.3" height="1.05" fill="rgb(235,235,235)"/>
<rect x="453.9" y="308" width="20.2" height="1.05" fill="rgb(237,237,237)"/>
<rect x="453.9" y="309" width="20.2" height="1.05" fill="rgb(240,240,240)"/>
<rect x="454.0" y="310" width="20.1" height="1.05" fill="rgb(242,242,242)"/>
<rect x="454.0" y="311" width="20.0" height="1.05" fill="rgb(244,244,244)"/>
</g>
<g filter="url(#blur2)">
<rect x="418.0" y="130" width="26.0" height="1.05" fill="rgb(250,250,250)"/>
<rect x="418.0" y="131" width="26.0" height="1.05" fill="rgb(250,250,250)"/>
<rect x="418.0" y="132" width="26.1" height="1.05" fill="rgb(249,249,249)"/>
<rect x="417.9" y="133" width="26.1" height="1.05" fill="rgb(249,249,249)"/>
<rect x="417.9" y="134" width="26.1" height="1.05" fill="rgb(249,249,249)"/>
<rect x="417.9" y="135" width="26.2" height="1.05" fill="rgb(249,249,249)"/>
<rect x="417.9" y="136" width="26.2" height="1.05" fill="rgb(248,248,248)"/>
<rect x="417.9" y="137" width="26.2" height="1.05" fill="rgb(248,248,248)"/>
<rect x="417.9" y="138" width="26.2" height="1.05" fill="rgb(248,248,248)"/>
<rect x="417.9" y="139" width="26.3" height="1.05" fill="rgb(248,248,248)"/>
<rect x="417.9" y="140" width="26.3" height="1.05" fill="rgb(248,248,248)"/>
<rect x="417.8" y="141" width="26.3" height="1.05" fill="rgb(247,247,247)"/>
<rect x="417.8" y="142" width="26.4" height="1.05" fill="rgb(247,247,247)"/>
<rect x="417.8" y="143" width="26.4" height="1.05" fill="rgb(247,247,247)"/>
<rect x="417.8" y="144" width="26.4" height="1.05" fill="rgb(247,247,247)"/>
<rect x="417.8" y="145" width="26.4" height="1.05" fill="rgb(246,246,246)"/>
<rect x="417.8" y="146" width="26.5" height="1.05" fill="rgb(246,246,246)"/>
<rect x="417.8" y="147" width="26.5" height="1.05" fill="rgb(246,246,246)"/>
<rect x="417.7" y="148" width="26.5" height="1.05" fill="rgb(246,246,246)"/>
<rect x="417.7" y="149" width="26.6" height="1.05" fill="rgb(245,245,245)"/>
<rect x="417.7" y="150" width="26.6" height="1.05" fill="rgb(245,245,245)"/>
<rect x="417.7" y="151" width="26.6" height="1.05" fill="rgb(245,245,245)"/>
<rect x="417.7" y="152" width="26.6" height="1.05" fill="rgb(245,245,245)"/>
<rect x="417.7" y="153" width="26.7" height="1.05" fill="rgb(245,245,245)"/>
<rect x="417.6" y="154" width="26.7" height="1.05" fill="rgb(244,244,244)"/>
<rect x="417.6" y="155" width="26.7" height="1.05" fill="rgb(244,244,244)"/>
<rect x="417.6" y="156" width="26.8" height="1.05" fill="rgb(244,244,244)"/>
<rect x="417.6" y="157" width="26.8" height="1.05" fill="rgb(244,244,244)"/>
<rect x="417.6" y="158" width="26.8" height="1.05" fill="rgb(243,243,243)"/>
<rect x="417.6" y="159" width="26.8" height="1.05" fill="rgb(243,243,243)"/>
<rect x="417.6" y="160" width="26.9" height="1.05" fill="rgb(243,243,243)"/>
<rect x="417.6" y="161" width="26.9" height="1.05" fill="rgb(243,243,243)"/>
<rect x="417.5" y="162" width="26.9" height="1.05" fill="rgb(243,243,243)"/>
<rect x="417.5" y="163" width="27.0" height="1.05" fill="rgb(243,243,243)"/>
<rect x="417.5" y="164" width="27.0" height="1.05" fill="rgb(243,243,243)"/>
<rect x="417.5" y="165" width="27.0" height="1.05" fill="rgb(243,243,243)"/>
<rect x="417.5" y="166" width="27.0" height="1.05" fill="rgb(243,243,243)"/>
<rect x="417.5" y="167" width="27.1" height="1.05" fill="rgb(242,242,242)"/>
<rect x="417.4" y="168" width="27.1" height="1.05" fill="rgb(242,242,242)"/>
<rect x="417.4" y="169" width="27.1" height="1.05" fill="rgb(242,242,242)"/>
<rect x="417.4" y="170" width="27.2" height="1.05" fill="rgb(242,242,242)"/>
<rect x="417.4" y="171" width="27.2" height="1.05" fill="rgb(242,242,242)"/>
<rect x="417.4" y="172" width="27.2" height="1.05" fill="rgb(242,242,242)"/>
<rect x="417.4" y="173" width="27.2" height="1.05" fill="rgb(242,242,242)"/>
<rect x="417.4" y="174" width="27.3" height="1.05" fill="rgb(242,242,242)"/>
<rect x="417.4" y="175" width="27.3" height="1.05" fill="rgb(242,242,242)"/>
<rect x="417.3" y="176" width="27.3" height="1.05" fill="rgb(242,242,242)"/>
<rect x="417.3" y="177" width="27.4" height="1.05" fill="rgb(242,242,242)"/>
<rect x="417.3" y="178" width="27.4" height="1.05" fill="rgb(242,242,242)"/>
<rect x="417.3" y="179" width="27.4" height="1.05" fill="rgb(242,242,242)"/>
<rect x="417.3" y="180" width="27.4" height="1.05" fill="rgb(241,241,241)"/>
<rect x="417.3" y="181" width="27.5" height="1.05" fill="rgb(241,241,241)"/>
<rect x="417.2" y="182" width="27.5" height="1.05" fill="rgb(241,241,241)"/>
<rect x="417.2" y="183" width="27.5" height="1.05" fill="rgb(241,241,241)"/>
<rect x="417.2" y="184" width="27.6" height="1.05" fill="rgb(241,241,241)"/>
<rect x="417.2" y="185" width="27.6" height="1.05" fill="rgb(241,241,241)"/>
<rect x="417.2" y="186" width="27.6" height="1.05" fill="rgb(241,241,241)"/>
<rect x="417.2" y="187" width="27.6" height="1.05" fill="rgb(241,241,241)"/>
<rect x="417.2" y="188" width="27.7" height="1.05" fill="rgb(241,241,241)"/>
<rect x="417.1" y="189" width="27.7" height="1.05" fill="rgb(241,241,241)"/>
<rect x="417.1" y="190" width="27.7" height="1.05" fill="rgb(241,241,241)"/>
<rect x="417.1" y="191" width="27.8" height="1.05" fill="rgb(241,241,241)"/>
<rect x="417.1" y="192" width="27.8" height="1.05" fill="rgb(241,241,241)"/>
<rect x="417.1" y="193" width="27.8" height="1.05" fill="rgb(240,240,240)"/>
<rect x="417.1" y="194" width="27.8" height="1.05" fill="rgb(240,240,240)"/>
<rect x="417.1" y="195" width="27.9" height="1.05" fill="rgb(240,240,240)"/>
<rect x="417.1" y="196" width="27.9" height="1.05" fill="rgb(240,240,240)"/>
<rect x="417.0" y="197" width="27.9" height="1.05" fill="rgb(240,240,240)"/>
<rect x="417.0" y="198" width="28.0" height="1.05" fill="rgb(240,240,240)"/>
<rect x="417.0" y="199" width="28.0" height="1.05" fill="rgb(240,240,240)"/>
<rect x="417.0" y="200" width="28.0" height="1.05" fill="rgb(240,240,240)"/>
<rect x="417.0" y="201" width="28.0" height="1.05" fill="rgb(240,240,240)"/>
<rect x="416.9" y="202" width="28.1" height="1.05" fill="rgb(240,240,240)"/>
<rect x="416.9" y="203" width="28.1" height="1.05" fill="rgb(239,239,239)"/>
<rect x="416.9" y="204" width="28.1" height="1.05" fill="rgb(239,239,239)"/>
<rect x="416.9" y="205" width="28.1" height="1.05" fill="rgb(239,239,239)"/>
<rect x="416.8" y="206" width="28.2" height="1.05" fill="rgb(239,239,239)"/>
<rect x="416.8" y="207" width="28.2" height="1.05" fill="rgb(238,238,238)"/>
<rect x="416.8" y="208" width="28.2" height="1.05" fill="rgb(238,238,238)"/>
<rect x="416.8" y="209" width="28.2" height="1.05" fill="rgb(238,238,238)"/>
<rect x="416.7" y="210" width="28.3" height="1.05" fill="rgb(238,238,238)"/>
<rect x="416.7" y="211" width="28.3" height="1.05" fill="rgb(238,238,238)"/>
<rect x="416.7" y="212" width="28.3" height="1.05" fill="rgb(238,238,238)"/>
<rect x="416.7" y="213" width="28.3" height="1.05" fill="rgb(237,237,237)"/>
<rect x="416.6" y="214" width="28.4" height="1.05" fill="rgb(237,237,237)"/>
<rect x="416.6" y="215" width="28.4" height="1.05" fill="rgb(237,237,237)"/>
<rect x="416.6" y="216" width="28.4" height="1.05" fill="rgb(237,237,237)"/>
<rect x="416.6" y="217" width="28.4" height="1.05" fill="rgb(236,236,236)"/>
<rect x="416.5" y="218" width="28.5" height="1.05" fill="rgb(236,236,236)"/>
<rect x="416.5" y="219" width="28.5" height="1.05" fill="rgb(236,236,236)"/>
<rect x="416.5" y="220" width="28.5" height="1.05" fill="rgb(236,236,236)"/>
<rect x="416.5" y="221" width="28.5" height="1.05" fill="rgb(236,236,236)"/>
<rect x="416.4" y="222" width="28.6" height="1.05" fill="rgb(236,236,236)"/>
<rect x="416.4" y="223" width="28.6" height="1.05" fill="rgb(235,235,235)"/>
<rect x="416.4" y="224" width="28.6" height="1.05" fill="rgb(235,235,235)"/>
<rect x="416.4" y="225" width="28.6" height="1.05" fill="rgb(235,235,235)"/>
<rect x="416.3" y="226" width="28.7" height="1.05" fill="rgb(235,235,235)"/>
<rect x="416.3" y="227" width="28.7" height="1.05" fill="rgb(234,234,234)"/>
<rect x="416.3" y="228" width="28.7" height="1.05" fill="rgb(234,234,234)"/>
<rect x="416.3" y="229" width="28.7" height="1.05" fill="rgb(234,234,234)"/>
<rect x="416.2" y="230" width="28.8" height="1.05" fill="rgb(230,230,230)"/>
<rect x="416.2" y="231" width="28.8" height="1.05" fill="rgb(221,221,221)"/>
<rect x="416.2" y="232" width="28.8" height="1.05" fill="rgb(212,212,212)"/>
<rect x="416.2" y="233" width="28.8" height="1.05" fill="rgb(208,208,208)"/>
<rect x="416.1" y="234" width="28.9" height="1.05" fill="rgb(208,208,208)"/>
<rect x="416.1" y="235" width="28.9" height="1.05" fill="rgb(208,208,208)"/>
<rect x="416.1" y="236" width="28.9" height="1.05" fill="rgb(208,208,208)"/>
<rect x="416.1" y="237" width="28.9" height="1.05" fill="rgb(208,208,208)"/>
<rect x="416.0" y="238" width="29.0" height="1.05" fill="rgb(208,208,208)"/>
<rect x="416.0" y="239" width="29.0" height="1.05" fill="rgb(208,208,208)"/>
<rect x="416.0" y="240" width="29.0" height="1.05" fill="rgb(209,209,209)"/>
<rect x="416.0" y="241" width="29.0" height="1.05" fill="rgb(210,210,210)"/>
<rect x="416.0" y="242" width="28.9" height="1.05" fill="rgb(210,210,210)"/>
<rect x="416.0" y="243" width="28.9" height="1.05" fill="rgb(210,210,210)"/>
<rect x="416.0" y="244" width="28.9" height="1.05" fill="rgb(209,209,209)"/>
<rect x="416.0" y="245" width="28.9" height="1.05" fill="rgb(209,209,209)"/>
<rect x="416.0" y="246" width="28.8" height="1.05" fill="rgb(209,209,209)"/>
<rect x="416.0" y="247" width="28.8" height="1.05" fill="rgb(208,208,208)"/>
<rect x="416.0" y="248" width="28.8" height="1.05" fill="rgb(208,208,208)"/>
<rect x="416.0" y="249" width="28.8" height="1.05" fill="rgb(208,208,208)"/>
<rect x="416.0" y="250" width="28.7" height="1.05" fill="rgb(208,208,208)"/>
<rect x="416.0" y="251" width="28.7" height="1.05" fill="rgb(207,207,207)"/>
<rect x="416.0" y="252" width="28.7" height="1.05" fill="rgb(207,207,207)"/>
<rect x="416.0" y="253" width="28.7" height="1.05" fill="rgb(207,207,207)"/>
<rect x="416.0" y="254" width="28.6" height="1.05" fill="rgb(206,206,206)"/>
<rect x="416.0" y="255" width="28.6" height="1.05" fill="rgb(206,206,206)"/>
<rect x="416.0" y="256" width="28.6" height="1.05" fill="rgb(198,198,198)"/>
<rect x="416.0" y="257" width="28.6" height="1.05" fill="rgb(183,183,183)"/>
<rect x="416.0" y="258" width="28.5" height="1.05" fill="rgb(168,168,168)"/>
<rect x="416.0" y="259" width="28.5" height="1.05" fill="rgb(160,160,160)"/>
<rect x="416.0" y="260" width="28.5" height="1.05" fill="rgb(160,160,160)"/>
<rect x="416.1" y="261" width="28.4" height="1.05" fill="rgb(160,160,160)"/>
<rect x="416.1" y="262" width="28.3" height="1.05" fill="rgb(160,160,160)"/>
<rect x="416.2" y="263" width="28.2" height="1.05" fill="rgb(160,160,160)"/>
<rect x="416.2" y="264" width="28.2" height="1.05" fill="rgb(160,160,160)"/>
<rect x="416.3" y="265" width="28.1" height="1.05" fill="rgb(160,160,160)"/>
<rect x="416.3" y="266" width="28.0" height="1.05" fill="rgb(160,160,160)"/>
<rect x="416.4" y="267" width="27.9" height="1.05" fill="rgb(160,160,160)"/>
<rect x="416.4" y="268" width="27.9" height="1.05" fill="rgb(160,160,160)"/>
<rect x="416.5" y="269" width="27.8" height="1.05" fill="rgb(160,160,160)"/>
<rect x="416.5" y="270" width="27.7" height="1.05" fill="rgb(170,170,170)"/>
<rect x="416.6" y="271" width="27.6" height="1.05" fill="rgb(189,189,189)"/>
<rect x="416.6" y="272" width="27.6" height="1.05" fill="rgb(208,208,208)"/>
<rect x="416.7" y="273" width="27.5" height="1.05" fill="rgb(218,218,218)"/>
<rect x="416.7" y="274" width="27.4" height="1.05" fill="rgb(219,219,219)"/>
<rect x="416.8" y="275" width="27.3" height="1.05" fill="rgb(219,219,219)"/>
<rect x="416.8" y="276" width="27.3" height="1.05" fill="rgb(219,219,219)"/>
<rect x="416.9" y="277" width="27.2" height="1.05" fill="rgb(220,220,220)"/>
<rect x="416.9" y="278" width="27.1" height="1.05" fill="rgb(220,220,220)"/>
<rect x="417.0" y="279" width="27.0" height="1.05" fill="rgb(221,221,221)"/>
<rect x="417.0" y="280" width="27.0" height="1.05" fill="rgb(221,221,221)"/>
<rect x="417.0" y="281" width="26.9" height="1.05" fill="rgb(222,222,222)"/>
<rect x="417.1" y="282" width="26.8" height="1.05" fill="rgb(222,222,222)"/>
<rect x="417.1" y="283" width="26.8" height="1.05" fill="rgb(222,222,222)"/>
<rect x="417.1" y="284" width="26.7" height="1.05" fill="rgb(223,223,223)"/>
<rect x="417.2" y="285" width="26.7" height="1.05" fill="rgb(223,223,223)"/>
<rect x="417.2" y="286" width="26.6" height="1.05" fill="rgb(224,224,224)"/>
<rect x="417.2" y="287" width="26.5" height="1.05" fill="rgb(224,224,224)"/>
<rect x="417.3" y="288" width="26.5" height="1.05" fill="rgb(225,225,225)"/>
<rect x="417.3" y="289" width="26.4" height="1.05" fill="rgb(225,225,225)"/>
<rect x="417.3" y="290" width="26.3" height="1.05" fill="rgb(225,225,225)"/>
<rect x="417.4" y="291" width="26.3" height="1.05" fill="rgb(226,226,226)"/>
<rect x="417.4" y="292" width="26.2" height="1.05" fill="rgb(224,224,224)"/>
<rect x="417.4" y="293" width="26.2" height="1.05" fill="rgb(220,220,220)"/>
<rect x="417.5" y="294" width="26.1" height="1.05" fill="rgb(216,216,216)"/>
<rect x="417.5" y="295" width="26.0" height="1.05" fill="rgb(214,214,214)"/>
<rect x="417.5" y="296" width="26.0" height="1.05" fill="rgb(214,214,214)"/>
<rect x="417.5" y="297" width="25.9" height="1.05" fill="rgb(214,214,214)"/>
<rect x="417.6" y="298" width="25.8" height="1.05" fill="rgb(217,217,217)"/>
<rect x="417.6" y="299" width="25.8" height="1.05" fill="rgb(223,223,223)"/>
<rect x="417.6" y="300" width="25.7" height="1.05" fill="rgb(229,229,229)"/>
<rect x="417.7" y="301" width="25.7" height="1.05" fill="rgb(233,233,233)"/>
<rect x="417.7" y="302" width="25.6" height="1.05" fill="rgb(234,234,234)"/>
<rect x="417.7" y="303" width="25.5" height="1.05" fill="rgb(235,235,235)"/>
<rect x="417.8" y="304" width="25.5" height="1.05" fill="rgb(236,236,236)"/>
<rect x="417.8" y="305" width="25.4" height="1.05" fill="rgb(237,237,237)"/>
<rect x="417.8" y="306" width="25.3" height="1.05" fill="rgb(238,238,238)"/>
<rect x="417.9" y="307" width="25.3" height="1.05" fill="rgb(240,240,240)"/>
<rect x="417.9" y="308" width="25.2" height="1.05" fill="rgb(241,241,241)"/>
<rect x="417.9" y="309" width="25.2" height="1.05" fill="rgb(242,242,242)"/>
<rect x="418.0" y="310" width="25.1" height="1.05" fill="rgb(243,243,243)"/>
<rect x="418.0" y="311" width="25.0" height="1.05" fill="rgb(244,244,244)"/>
</g>
<ellipse cx="436" cy="207" rx="8" ry="2.5" fill="#d2d2d2" filter="url(#blur1)"/>
</g>
<rect x="450" y="242" width="32" height="70" fill="#fafafa" opacity="0.0"/>
<rect x="407.8" y="89.4" width="77.7" height="226.2" fill="none" stroke="#000" stroke-width="1.5"/>
<line x1="81.2" y1="350.5" x2="81.2" y2="462.7" stroke="#000" stroke-width="1.3"/>
<line x1="78.2" y1="460" x2="210.6" y2="460" stroke="#000" stroke-width="1.1"/>
<line x1="78.6" y1="460.40000000000003" x2="81.2" y2="460.40000000000003" stroke="#000" stroke-width="1.1"/>
<line x1="79.8" y1="449.44250815783107" x2="81.2" y2="449.44250815783107" stroke="#000" stroke-width="0.8"/>
<line x1="79.8" y1="443.03278632820434" x2="81.2" y2="443.03278632820434" stroke="#000" stroke-width="0.8"/>
<line x1="79.8" y1="438.48501631566216" x2="81.2" y2="438.48501631566216" stroke="#000" stroke-width="0.8"/>
<line x1="79.8" y1="434.95749184216896" x2="81.2" y2="434.95749184216896" stroke="#000" stroke-width="0.8"/>
<line x1="79.8" y1="432.0752944860354" x2="81.2" y2="432.0752944860354" stroke="#000" stroke-width="0.8"/>
<line x1="79.8" y1="429.63843134348105" x2="81.2" y2="429.63843134348105" stroke="#000" stroke-width="0.8"/>
<line x1="79.8" y1="427.52752447349326" x2="81.2" y2="427.52752447349326" stroke="#000" stroke-width="0.8"/>
<line x1="79.8" y1="425.6655726564086" x2="81.2" y2="425.6655726564086" stroke="#000" stroke-width="0.8"/>
<line x1="78.6" y1="424.0" x2="81.2" y2="424.0" stroke="#000" stroke-width="1.1"/>
<line x1="79.8" y1="413.0425081578311" x2="81.2" y2="413.0425081578311" stroke="#000" stroke-width="0.8"/>
<line x1="79.8" y1="406.6327863282043" x2="81.2" y2="406.6327863282043" stroke="#000" stroke-width="0.8"/>
<line x1="79.8" y1="402.0850163156622" x2="81.2" y2="402.0850163156622" stroke="#000" stroke-width="0.8"/>
<line x1="79.8" y1="398.55749184216893" x2="81.2" y2="398.55749184216893" stroke="#000" stroke-width="0.8"/>
<line x1="79.8" y1="395.6752944860354" x2="81.2" y2="395.6752944860354" stroke="#000" stroke-width="0.8"/>
<line x1="79.8" y1="393.23843134348107" x2="81.2" y2="393.23843134348107" stroke="#000" stroke-width="0.8"/>
<line x1="79.8" y1="391.1275244734933" x2="81.2" y2="391.1275244734933" stroke="#000" stroke-width="0.8"/>
<line x1="79.8" y1="389.2655726564086" x2="81.2" y2="389.2655726564086" stroke="#000" stroke-width="0.8"/>
<line x1="78.6" y1="387.6" x2="81.2" y2="387.6" stroke="#000" stroke-width="1.1"/>
<line x1="79.8" y1="376.6425081578311" x2="81.2" y2="376.6425081578311" stroke="#000" stroke-width="0.8"/>
<line x1="79.8" y1="370.2327863282043" x2="81.2" y2="370.2327863282043" stroke="#000" stroke-width="0.8"/>
<line x1="79.8" y1="365.6850163156622" x2="81.2" y2="365.6850163156622" stroke="#000" stroke-width="0.8"/>
<line x1="79.8" y1="362.15749184216895" x2="81.2" y2="362.15749184216895" stroke="#000" stroke-width="0.8"/>
<line x1="79.8" y1="359.2752944860354" x2="81.2" y2="359.2752944860354" stroke="#000" stroke-width="0.8"/>
<line x1="79.8" y1="356.8384313434811" x2="81.2" y2="356.8384313434811" stroke="#000" stroke-width="0.8"/>
<line x1="79.8" y1="354.7275244734933" x2="81.2" y2="354.7275244734933" stroke="#000" stroke-width="0.8"/>
<line x1="79.8" y1="352.8655726564086" x2="81.2" y2="352.8655726564086" stroke="#000" stroke-width="0.8"/>
<line x1="78.6" y1="351.20000000000005" x2="81.2" y2="351.20000000000005" stroke="#000" stroke-width="1.1"/>
<line x1="81.2" y1="460" x2="81.2" y2="462.7" stroke="#000" stroke-width="1.0"/>
<line x1="102.7" y1="460" x2="102.7" y2="461.6" stroke="#000" stroke-width="1.0"/>
<line x1="124.2" y1="460" x2="124.2" y2="462.7" stroke="#000" stroke-width="1.0"/>
<line x1="145.7" y1="460" x2="145.7" y2="461.6" stroke="#000" stroke-width="1.0"/>
<line x1="167.2" y1="460" x2="167.2" y2="462.7" stroke="#000" stroke-width="1.0"/>
<line x1="188.7" y1="460" x2="188.7" y2="461.6" stroke="#000" stroke-width="1.0"/>
<line x1="210.2" y1="460" x2="210.2" y2="462.7" stroke="#000" stroke-width="1.0"/>
<text x="61" y="356.6" font-size="12" font-family='"Liberation Serif", serif' font-weight="bold" text-anchor="start" textLength="14" lengthAdjust="spacingAndGlyphs" stroke="#000" stroke-width="0.4">10</text>
<text x="68.5" y="392.2" font-size="12" font-family='"Liberation Serif", serif' font-weight="bold" text-anchor="start" textLength="4.5" lengthAdjust="spacingAndGlyphs" stroke="#000" stroke-width="0.4">1</text>
<text x="64.1" y="429.7" font-size="12" font-family='"Liberation Serif", serif' font-weight="bold" text-anchor="start" textLength="9.9" lengthAdjust="spacingAndGlyphs" stroke="#000" stroke-width="0.4">.1</text>
<text x="57.1" y="465.5" font-size="12" font-family='"Liberation Serif", serif' font-weight="bold" text-anchor="start" textLength="16.9" lengthAdjust="spacingAndGlyphs" stroke="#000" stroke-width="0.4">.01</text>
<text x="81.7" y="477.5" font-size="12.5" font-family='"Liberation Serif", serif' font-weight="bold" text-anchor="middle" textLength="7" lengthAdjust="spacingAndGlyphs" stroke="#000" stroke-width="0.4">0</text>
<text x="125" y="478" font-size="12.5" font-family='"Liberation Serif", serif' font-weight="bold" text-anchor="middle" textLength="12.4" lengthAdjust="spacingAndGlyphs" stroke="#000" stroke-width="0.4">10</text>
<text x="168" y="478" font-size="12.5" font-family='"Liberation Serif", serif' font-weight="bold" text-anchor="middle" textLength="12.4" lengthAdjust="spacingAndGlyphs" stroke="#000" stroke-width="0.4">20</text>
<text x="211" y="478" font-size="12.5" font-family='"Liberation Serif", serif' font-weight="bold" text-anchor="middle" textLength="12.4" lengthAdjust="spacingAndGlyphs" stroke="#000" stroke-width="0.4">30</text>
<text x="127" y="495.5" font-size="14" font-family='"Liberation Serif", serif' font-weight="bold" text-anchor="start" textLength="40" lengthAdjust="spacingAndGlyphs" stroke="#000" stroke-width="0.4">Hours</text>
<text x="43.3" y="460.6" font-size="13.5" font-family='"Liberation Serif", serif' font-weight="bold" text-anchor="start" textLength="116.6" lengthAdjust="spacingAndGlyphs" transform="rotate(-90 43.3 460.6)" stroke="#000" stroke-width="0.4">Viable cell number</text>
<text x="55.7" y="431.5" font-size="12.5" font-family='"Liberation Serif", serif' font-weight="bold" textLength="61" lengthAdjust="spacingAndGlyphs" transform="rotate(-90 55.7 431.5)">(x10<tspan font-size="8" dy="-4">5</tspan><tspan dy="4">/mL)</tspan></text>
<path d="M81.2,376.6 L119.9,370.2 L185.7,353.8" fill="none" stroke="#000" stroke-width="1.35"/>
<path d="M81.2,376.6 L119.9,370.2 L185.7,355.5" fill="none" stroke="#000" stroke-width="1.35"/>
<path d="M81.2,376.6 L119.9,370.2 L185.7,356.8" fill="none" stroke="#000" stroke-width="1.35"/>
<path d="M81.2,376.6 L119.9,378.3 L185.7,387.6" fill="none" stroke="#000" stroke-width="1.35"/>
<path d="M81.2,376.6 L119.9,395.7 L185.7,440.6" fill="none" stroke="#000" stroke-width="1.35"/>
<circle cx="81.2" cy="376.6" r="3.15" fill="#fff" stroke="#000" stroke-width="1.3"/>
<circle cx="119.9" cy="370.2" r="3.15" fill="#fff" stroke="#000" stroke-width="1.3"/>
<circle cx="185.7" cy="353.8" r="3.15" fill="#fff" stroke="#000" stroke-width="1.3"/>
<path d="M81.2,373.5 L84.2,379.0 L78.2,379.0 Z" fill="#fff" stroke="#000" stroke-width="1.1" stroke-linejoin="miter"/>
<path d="M119.9,367.1 L122.9,372.6 L116.9,372.6 Z" fill="#fff" stroke="#000" stroke-width="1.1" stroke-linejoin="miter"/>
<path d="M185.7,352.4 L188.7,357.9 L182.7,357.9 Z" fill="#fff" stroke="#000" stroke-width="1.1" stroke-linejoin="miter"/>
<circle cx="81.2" cy="376.6" r="3.78" fill="#000"/>
<circle cx="119.9" cy="370.2" r="3.78" fill="#000"/>
<circle cx="185.7" cy="356.8" r="3.78" fill="#000"/>
<rect x="77.5" y="373.0" width="7.4" height="7.4" fill="#000"/>
<rect x="116.2" y="374.6" width="7.4" height="7.4" fill="#000"/>
<rect x="182.0" y="383.9" width="7.4" height="7.4" fill="#000"/>
<path d="M81.2,373.1 L84.8,379.5 L77.6,379.5 Z" fill="#000"/>
<path d="M119.9,392.1 L123.5,398.5 L116.3,398.5 Z" fill="#000"/>
<path d="M185.7,437.0 L189.3,443.5 L182.1,443.5 Z" fill="#000"/>
<text x="260" y="356" font-size="12.3" font-family='"Liberation Serif", serif' font-weight="bold" text-anchor="start" textLength="24.3" lengthAdjust="spacingAndGlyphs" stroke="#000" stroke-width="0.4">Cells</text>
<text x="310" y="356" font-size="12.3" font-family='"Liberation Serif", serif' font-weight="bold" text-anchor="start" textLength="35.2" lengthAdjust="spacingAndGlyphs" stroke="#000" stroke-width="0.4">STI571</text>
<line x1="248.2" y1="359.2" x2="294.4" y2="359.2" stroke="#000" stroke-width="1.4"/>
<line x1="308.5" y1="359.2" x2="346.6" y2="359.2" stroke="#000" stroke-width="1.4"/>
<line x1="208" y1="368.1" x2="245.2" y2="368.1" stroke="#000" stroke-width="1.4"/>
<circle cx="228.1" cy="368.1" r="3.00" fill="#fff" stroke="#000" stroke-width="1.3"/>
<text x="252.2" y="372" font-size="11.5" font-family='"Liberation Serif", serif' font-weight="bold" text-anchor="start" textLength="22.2" lengthAdjust="spacingAndGlyphs" stroke="#000" stroke-width="0.4">Tot2</text>
<text x="313.7" y="372" font-size="11.5" font-family='"Liberation Serif", serif' font-weight="bold" text-anchor="start" textLength="24.5" lengthAdjust="spacingAndGlyphs" stroke="#000" stroke-width="0.4">0 μM</text>
<line x1="208" y1="383.2" x2="245.2" y2="383.2" stroke="#000" stroke-width="1.4"/>
<path d="M228.1,380.2 L230.9,385.4 L225.2,385.4 Z" fill="#fff" stroke="#000" stroke-width="1.1" stroke-linejoin="miter"/>
<text x="252.2" y="387" font-size="11.5" font-family='"Liberation Serif", serif' font-weight="bold" text-anchor="start" textLength="22.2" lengthAdjust="spacingAndGlyphs" stroke="#000" stroke-width="0.4">Tot2</text>
<text x="313.7" y="387" font-size="11.5" font-family='"Liberation Serif", serif' font-weight="bold" text-anchor="start" textLength="24.5" lengthAdjust="spacingAndGlyphs" stroke="#000" stroke-width="0.4">2 μM</text>
<line x1="208" y1="398.2" x2="245.2" y2="398.2" stroke="#000" stroke-width="1.4"/>
<circle cx="228.1" cy="398.2" r="3.60" fill="#000"/>
<text x="252.2" y="401.5" font-size="11.5" font-family='"Liberation Serif", serif' font-weight="bold" text-anchor="start" textLength="45.9" lengthAdjust="spacingAndGlyphs" stroke="#000" stroke-width="0.4">Tot2p210</text>
<text x="315" y="401.5" font-size="11.5" font-family='"Liberation Serif", serif' font-weight="bold" text-anchor="start" textLength="23.8" lengthAdjust="spacingAndGlyphs" stroke="#000" stroke-width="0.4">0 μM</text>
<line x1="208" y1="411.9" x2="245.2" y2="411.9" stroke="#000" stroke-width="1.4"/>
<rect x="224.6" y="408.4" width="7.0" height="7.0" fill="#000"/>
<text x="252.2" y="415.8" font-size="11.5" font-family='"Liberation Serif", serif' font-weight="bold" text-anchor="start" textLength="45.9" lengthAdjust="spacingAndGlyphs" stroke="#000" stroke-width="0.4">Tot2p210</text>
<text x="315" y="415.8" font-size="11.5" font-family='"Liberation Serif", serif' font-weight="bold" text-anchor="start" textLength="33.2" lengthAdjust="spacingAndGlyphs" stroke="#000" stroke-width="0.4">0.5 μM</text>
<line x1="208" y1="426" x2="245.2" y2="426" stroke="#000" stroke-width="1.4"/>
<path d="M228.1,422.6 L231.5,428.7 L224.7,428.7 Z" fill="#000"/>
<text x="252.2" y="429.4" font-size="11.5" font-family='"Liberation Serif", serif' font-weight="bold" text-anchor="start" textLength="45.9" lengthAdjust="spacingAndGlyphs" stroke="#000" stroke-width="0.4">Tot2p210</text>
<text x="315" y="429.4" font-size="11.5" font-family='"Liberation Serif", serif' font-weight="bold" text-anchor="start" textLength="23.8" lengthAdjust="spacingAndGlyphs" stroke="#000" stroke-width="0.4">2 μM</text>
</svg>
</body></html>
